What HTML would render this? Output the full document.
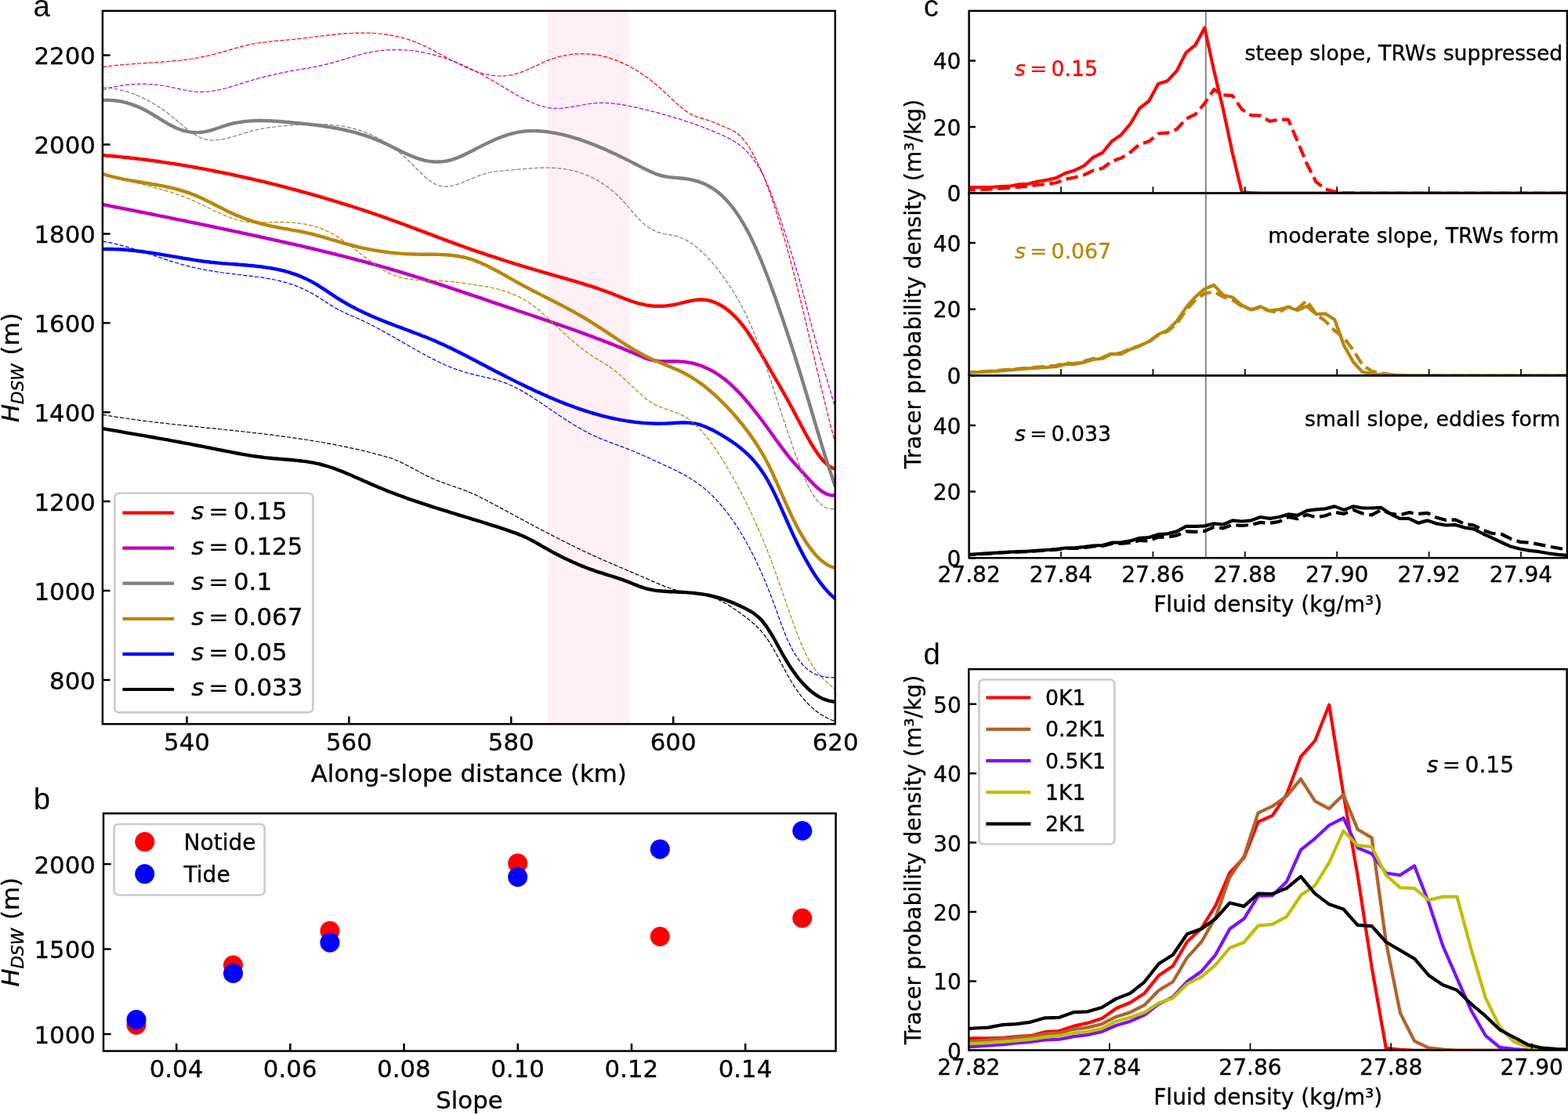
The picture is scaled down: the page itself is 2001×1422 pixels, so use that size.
<!DOCTYPE html>
<html lang="en"><head><meta charset="utf-8"><title>Figure</title>
<style>html,body{margin:0;padding:0;background:#fff;overflow:hidden}svg{display:block}text{white-space:pre;stroke-width:0.35px;paint-order:stroke}</style></head>
<body>
<svg width="2001" height="1422" viewBox="0 0 2001 1422">
<rect width="2001" height="1422" fill="#fff"/>
<defs>
<clipPath id="ca"><rect x="130.9" y="13.9" width="934.9" height="910.3"/></clipPath>
<clipPath id="c1"><rect x="1236.6" y="13.9" width="763.4" height="232.7"/></clipPath>
<clipPath id="c2"><rect x="1236.6" y="246.6" width="763.4" height="232.7"/></clipPath>
<clipPath id="c3"><rect x="1236.6" y="479.3" width="763.4" height="232.9"/></clipPath>
<clipPath id="cd"><rect x="1236.3" y="854.2" width="763.4" height="486.4"/></clipPath>
</defs>
<g id="panel-a">
<rect x="699" y="13.9" width="104.7" height="910.3" fill="#fff0f5"/>
<g clip-path="url(#ca)" fill="none" stroke-linejoin="round">
<path d="M131 198.2 L134 198.4 L137 198.7 L140 198.9 L143 199.2 L146 199.5 L149 199.8 L152 200.1 L155 200.4 L158 200.7 L161 201 L164 201.3 L167 201.7 L170 202 L173 202.3 L176 202.7 L179 203.1 L182 203.4 L185 203.8 L188 204.2 L191 204.6 L194 205 L197 205.4 L200 205.8 L203 206.2 L206 206.7 L209 207.1 L212 207.6 L215 208 L218 208.5 L221 208.9 L224 209.4 L227 209.9 L230 210.4 L233 210.9 L236 211.4 L239 211.9 L242 212.4 L245 212.9 L248 213.5 L251 214 L254 214.6 L257 215.1 L260 215.7 L263 216.2 L266 216.8 L269 217.4 L272 218 L275 218.6 L278 219.2 L281 219.8 L284 220.4 L287 221 L290 221.6 L293 222.2 L296 222.9 L299 223.5 L302 224.2 L305 224.8 L308 225.5 L311 226.2 L314 226.8 L317 227.5 L320 228.2 L323 228.9 L326 229.6 L329 230.3 L332 231 L335 231.7 L338 232.4 L341 233.2 L344 233.9 L347 234.6 L350 235.4 L353 236.1 L356 236.9 L359 237.7 L362 238.4 L365 239.2 L368 240 L371 240.8 L374 241.6 L377 242.4 L380 243.2 L383 244 L386 244.8 L389 245.6 L392 246.5 L395 247.3 L398 248.2 L401 249 L404 249.9 L407 250.7 L410 251.6 L413 252.5 L416 253.4 L419 254.3 L422 255.2 L425 256.1 L428 257 L431 257.9 L434 258.8 L437 259.8 L440 260.7 L443 261.6 L446 262.6 L449 263.5 L452 264.5 L455 265.5 L458 266.5 L461 267.4 L464 268.4 L467 269.4 L470 270.4 L473 271.5 L476 272.5 L479 273.5 L482 274.5 L485 275.6 L488 276.6 L491 277.7 L494 278.7 L497 279.8 L500 280.9 L503 282 L506 283 L509 284.1 L512 285.2 L515 286.3 L518 287.5 L521 288.6 L524 289.7 L527 290.8 L530 291.9 L533 293.1 L536 294.2 L539 295.3 L542 296.4 L545 297.6 L548 298.7 L551 299.8 L554 301 L557 302.1 L560 303.2 L563 304.3 L566 305.5 L569 306.6 L572 307.7 L575 308.8 L578 309.9 L581 311 L584 312.1 L587 313.2 L590 314.3 L593 315.4 L596 316.5 L599 317.5 L602 318.6 L605 319.6 L608 320.7 L611 321.7 L614 322.7 L617 323.7 L620 324.7 L623 325.8 L626 326.7 L629 327.7 L632 328.7 L635 329.7 L638 330.7 L641 331.6 L644 332.6 L647 333.5 L650 334.5 L653 335.4 L656 336.3 L659 337.3 L662 338.2 L665 339.1 L668 340 L671 340.9 L674 341.8 L677 342.7 L680 343.6 L683 344.5 L686 345.4 L689 346.2 L692 347.1 L695 348 L698 348.8 L701 349.7 L704 350.6 L707 351.4 L710 352.3 L713 353.1 L716 354 L719 354.8 L722 355.7 L725 356.6 L728 357.4 L731 358.3 L734 359.2 L737 360.1 L740 361 L743 361.9 L746 362.8 L749 363.8 L752 364.7 L755 365.7 L758 366.7 L761 367.7 L764 368.7 L767 369.8 L770 370.8 L773 371.9 L776 373 L779 374.1 L782 375.3 L785 376.5 L788 377.7 L791 378.9 L794 380 L797 381.2 L800 382.3 L803 383.4 L806 384.5 L809 385.5 L812 386.4 L815 387.3 L818 388 L821 388.7 L824 389.3 L827 389.8 L830 390.2 L833 390.5 L836 390.7 L839 390.8 L842 390.8 L845 390.7 L848 390.6 L851 390.3 L854 389.9 L857 389.5 L860 389 L863 388.4 L866 387.7 L869 386.9 L872 386.2 L875 385.5 L878 384.8 L881 384.1 L884 383.5 L887 383.1 L890 382.7 L893 382.5 L896 382.5 L899 382.7 L902 383.1 L905 383.7 L908 384.5 L911 385.5 L914 386.7 L917 388.2 L920 389.8 L923 391.7 L926 393.7 L929 396 L932 398.5 L935 401.1 L938 404.1 L941 407.2 L944 410.6 L947 414.2 L950 418.1 L953 422.3 L956 426.7 L959 431.3 L962 436.1 L965 441 L968 446 L971 451.2 L974 456.3 L977 461.6 L980 466.8 L983 472 L986 477.1 L989 482.3 L992 487.5 L995 492.7 L998 497.9 L1001 503.2 L1004 508.6 L1007 514 L1010 519.5 L1013 525.1 L1016 530.8 L1019 536.6 L1022 542.3 L1025 547.9 L1028 553.5 L1031 558.9 L1034 564.1 L1037 569.2 L1040 573.9 L1043 578.4 L1046 582.6 L1049 586.3 L1052 589.7 L1055 592.5 L1058 594.9 L1061 596.8 L1064 598 L1066 598.5" stroke="#ff0000" stroke-width="4.4"/>
<path d="M131 261 L134 261.6 L137 262.2 L140 262.8 L143 263.4 L146 264 L149 264.6 L152 265.1 L155 265.7 L158 266.3 L161 266.9 L164 267.5 L167 268.1 L170 268.7 L173 269.3 L176 269.9 L179 270.5 L182 271.1 L185 271.7 L188 272.3 L191 272.9 L194 273.5 L197 274.1 L200 274.7 L203 275.3 L206 275.9 L209 276.5 L212 277.1 L215 277.7 L218 278.3 L221 278.9 L224 279.6 L227 280.2 L230 280.8 L233 281.4 L236 282 L239 282.6 L242 283.3 L245 283.9 L248 284.5 L251 285.1 L254 285.7 L257 286.4 L260 287 L263 287.6 L266 288.2 L269 288.9 L272 289.5 L275 290.1 L278 290.8 L281 291.4 L284 292 L287 292.7 L290 293.3 L293 293.9 L296 294.6 L299 295.2 L302 295.9 L305 296.5 L308 297.1 L311 297.8 L314 298.4 L317 299.1 L320 299.7 L323 300.4 L326 301 L329 301.7 L332 302.3 L335 303 L338 303.6 L341 304.3 L344 305 L347 305.6 L350 306.3 L353 307 L356 307.6 L359 308.3 L362 309 L365 309.6 L368 310.3 L371 311 L374 311.7 L377 312.4 L380 313.1 L383 313.7 L386 314.4 L389 315.1 L392 315.8 L395 316.5 L398 317.2 L401 318 L404 318.7 L407 319.4 L410 320.1 L413 320.8 L416 321.6 L419 322.3 L422 323 L425 323.8 L428 324.5 L431 325.3 L434 326 L437 326.8 L440 327.6 L443 328.3 L446 329.1 L449 329.9 L452 330.7 L455 331.5 L458 332.3 L461 333 L464 333.9 L467 334.7 L470 335.5 L473 336.3 L476 337.1 L479 338 L482 338.8 L485 339.6 L488 340.5 L491 341.4 L494 342.2 L497 343.1 L500 344 L503 344.8 L506 345.7 L509 346.6 L512 347.5 L515 348.4 L518 349.4 L521 350.3 L524 351.2 L527 352.1 L530 353.1 L533 354 L536 354.9 L539 355.9 L542 356.9 L545 357.8 L548 358.8 L551 359.7 L554 360.7 L557 361.7 L560 362.7 L563 363.6 L566 364.6 L569 365.6 L572 366.6 L575 367.6 L578 368.6 L581 369.6 L584 370.6 L587 371.6 L590 372.6 L593 373.6 L596 374.6 L599 375.6 L602 376.6 L605 377.7 L608 378.7 L611 379.7 L614 380.7 L617 381.7 L620 382.7 L623 383.8 L626 384.8 L629 385.8 L632 386.8 L635 387.8 L638 388.9 L641 389.9 L644 390.9 L647 391.9 L650 392.9 L653 393.9 L656 394.9 L659 396 L662 397 L665 398 L668 399 L671 400 L674 401 L677 402 L680 403 L683 404.1 L686 405.1 L689 406.1 L692 407.1 L695 408.1 L698 409.2 L701 410.2 L704 411.2 L707 412.3 L710 413.3 L713 414.3 L716 415.4 L719 416.4 L722 417.5 L725 418.5 L728 419.6 L731 420.7 L734 421.7 L737 422.8 L740 423.9 L743 425 L746 426.1 L749 427.2 L752 428.3 L755 429.4 L758 430.5 L761 431.7 L764 432.8 L767 433.9 L770 435.1 L773 436.3 L776 437.4 L779 438.6 L782 439.8 L785 441 L788 442.2 L791 443.4 L794 444.6 L797 445.9 L800 447.1 L803 448.4 L806 449.6 L809 450.9 L812 452.2 L815 453.5 L818 454.8 L821 456.1 L824 457.3 L827 458.3 L830 459.2 L833 459.9 L836 460.5 L839 460.8 L842 461.1 L845 461.2 L848 461.2 L851 461.3 L854 461.3 L857 461.3 L860 461.3 L863 461.3 L866 461.4 L869 461.6 L872 461.8 L875 462.1 L878 462.6 L881 463.1 L884 463.7 L887 464.5 L890 465.4 L893 466.3 L896 467.4 L899 468.7 L902 470 L905 471.4 L908 473 L911 474.7 L914 476.5 L917 478.5 L920 480.6 L923 482.8 L926 485.1 L929 487.6 L932 490.2 L935 493 L938 495.9 L941 498.9 L944 502 L947 505.3 L950 508.6 L953 512.1 L956 515.7 L959 519.4 L962 523.1 L965 526.9 L968 530.8 L971 534.8 L974 538.8 L977 542.9 L980 547 L983 551.1 L986 555.3 L989 559.5 L992 563.6 L995 567.7 L998 571.8 L1001 575.7 L1004 579.6 L1007 583.4 L1010 587 L1013 590.5 L1016 593.8 L1019 597.1 L1022 600.4 L1025 603.7 L1028 607 L1031 610.3 L1034 613.5 L1037 616.7 L1040 619.7 L1043 622.5 L1046 625 L1049 627.3 L1052 629.2 L1055 630.7 L1058 631.7 L1061 632.3 L1064 632.3 L1066 632" stroke="#bf00bf" stroke-width="4.4"/>
<path d="M131 128 L134 127.9 L137 127.8 L140 127.9 L143 128.1 L146 128.3 L149 128.7 L152 129.1 L155 129.7 L158 130.4 L161 131.1 L164 132 L167 132.9 L170 133.9 L173 135.1 L176 136.3 L179 137.6 L182 139 L185 140.5 L188 142.1 L191 143.8 L194 145.5 L197 147.4 L200 149.2 L203 151.1 L206 153 L209 154.8 L212 156.6 L215 158.4 L218 160 L221 161.5 L224 162.9 L227 164.2 L230 165.3 L233 166.3 L236 167.1 L239 167.8 L242 168.4 L245 168.8 L248 169 L251 169.1 L254 169 L257 168.8 L260 168.4 L263 167.9 L266 167.2 L269 166.4 L272 165.5 L275 164.5 L278 163.5 L281 162.5 L284 161.4 L287 160.5 L290 159.5 L293 158.7 L296 157.9 L299 157.2 L302 156.6 L305 156.1 L308 155.6 L311 155.2 L314 154.9 L317 154.6 L320 154.4 L323 154.2 L326 154.1 L329 154 L332 154 L335 154 L338 154.1 L341 154.2 L344 154.3 L347 154.4 L350 154.6 L353 154.8 L356 155 L359 155.3 L362 155.5 L365 155.8 L368 156 L371 156.3 L374 156.6 L377 156.9 L380 157.2 L383 157.5 L386 157.8 L389 158.1 L392 158.4 L395 158.7 L398 159.1 L401 159.4 L404 159.8 L407 160.2 L410 160.6 L413 161 L416 161.5 L419 162 L422 162.4 L425 163 L428 163.5 L431 164.1 L434 164.7 L437 165.3 L440 166 L443 166.6 L446 167.4 L449 168.1 L452 168.9 L455 169.7 L458 170.6 L461 171.5 L464 172.4 L467 173.4 L470 174.4 L473 175.5 L476 176.6 L479 177.8 L482 179 L485 180.3 L488 181.6 L491 182.9 L494 184.3 L497 185.8 L500 187.3 L503 188.7 L506 190.2 L509 191.7 L512 193.2 L515 194.6 L518 196.1 L521 197.4 L524 198.7 L527 200 L530 201.1 L533 202.2 L536 203.2 L539 204 L542 204.8 L545 205.4 L548 205.9 L551 206.2 L554 206.5 L557 206.6 L560 206.5 L563 206.4 L566 206.1 L569 205.6 L572 205 L575 204.3 L578 203.4 L581 202.4 L584 201.3 L587 200 L590 198.7 L593 197.2 L596 195.8 L599 194.2 L602 192.7 L605 191.2 L608 189.6 L611 188.1 L614 186.6 L617 185.1 L620 183.6 L623 182.2 L626 180.8 L629 179.4 L632 178.1 L635 176.8 L638 175.6 L641 174.5 L644 173.4 L647 172.4 L650 171.4 L653 170.6 L656 169.8 L659 169.2 L662 168.6 L665 168.1 L668 167.7 L671 167.4 L674 167.2 L677 167.1 L680 167.1 L683 167.1 L686 167.2 L689 167.4 L692 167.6 L695 167.9 L698 168.2 L701 168.7 L704 169.1 L707 169.6 L710 170.2 L713 170.8 L716 171.4 L719 172.1 L722 172.9 L725 173.7 L728 174.5 L731 175.4 L734 176.3 L737 177.2 L740 178.2 L743 179.2 L746 180.3 L749 181.3 L752 182.5 L755 183.6 L758 184.8 L761 186 L764 187.2 L767 188.5 L770 189.8 L773 191.1 L776 192.5 L779 193.8 L782 195.2 L785 196.6 L788 198 L791 199.5 L794 200.9 L797 202.4 L800 203.9 L803 205.4 L806 206.9 L809 208.4 L812 210 L815 211.5 L818 213.1 L821 214.6 L824 216.1 L827 217.6 L830 219 L833 220.3 L836 221.6 L839 222.7 L842 223.7 L845 224.5 L848 225.1 L851 225.7 L854 226.1 L857 226.4 L860 226.7 L863 226.9 L866 227.2 L869 227.5 L872 227.8 L875 228.2 L878 228.6 L881 229.2 L884 229.8 L887 230.6 L890 231.4 L893 232.4 L896 233.5 L899 234.8 L902 236.2 L905 237.8 L908 239.5 L911 241.5 L914 243.6 L917 246 L920 248.5 L923 251.3 L926 254.4 L929 257.6 L932 261.1 L935 264.9 L938 268.9 L941 273.2 L944 277.7 L947 282.6 L950 287.7 L953 293.1 L956 298.8 L959 304.8 L962 311.1 L965 317.7 L968 324.6 L971 331.7 L974 339.1 L977 346.7 L980 354.5 L983 362.5 L986 370.7 L989 379 L992 387.5 L995 396.2 L998 404.9 L1001 413.8 L1004 422.8 L1007 431.9 L1010 441.1 L1013 450.4 L1016 459.9 L1019 469.5 L1022 479.2 L1025 489 L1028 498.9 L1031 508.9 L1034 519 L1037 529.1 L1040 539.2 L1043 549.3 L1046 559.2 L1049 569.1 L1052 578.8 L1055 588.3 L1058 597.6 L1061 606.6 L1064 615.4 L1066 621" stroke="#808080" stroke-width="4.4"/>
<path d="M131 222 L134 222.9 L137 223.8 L140 224.6 L143 225.4 L146 226.1 L149 226.8 L152 227.5 L155 228.1 L158 228.8 L161 229.3 L164 229.9 L167 230.4 L170 231 L173 231.5 L176 232 L179 232.5 L182 233 L185 233.5 L188 233.9 L191 234.4 L194 235 L197 235.5 L200 236 L203 236.6 L206 237.1 L209 237.7 L212 238.3 L215 239 L218 239.7 L221 240.4 L224 241.1 L227 241.9 L230 242.8 L233 243.7 L236 244.6 L239 245.6 L242 246.6 L245 247.7 L248 248.9 L251 250.1 L254 251.4 L257 252.8 L260 254.2 L263 255.7 L266 257.1 L269 258.6 L272 260.2 L275 261.7 L278 263.3 L281 264.8 L284 266.3 L287 267.9 L290 269.4 L293 270.8 L296 272.2 L299 273.6 L302 274.9 L305 276.1 L308 277.3 L311 278.5 L314 279.6 L317 280.6 L320 281.6 L323 282.6 L326 283.5 L329 284.3 L332 285.2 L335 286 L338 286.7 L341 287.4 L344 288.1 L347 288.8 L350 289.4 L353 290 L356 290.6 L359 291.2 L362 291.7 L365 292.2 L368 292.7 L371 293.3 L374 293.8 L377 294.3 L380 294.8 L383 295.4 L386 296 L389 296.6 L392 297.3 L395 298 L398 298.7 L401 299.5 L404 300.3 L407 301.1 L410 301.9 L413 302.8 L416 303.7 L419 304.6 L422 305.5 L425 306.4 L428 307.2 L431 308.1 L434 309 L437 309.9 L440 310.8 L443 311.6 L446 312.4 L449 313.2 L452 314 L455 314.7 L458 315.5 L461 316.2 L464 316.8 L467 317.4 L470 318 L473 318.6 L476 319.2 L479 319.7 L482 320.2 L485 320.7 L488 321.1 L491 321.5 L494 321.9 L497 322.3 L500 322.6 L503 322.9 L506 323.2 L509 323.4 L512 323.7 L515 323.9 L518 324.1 L521 324.2 L524 324.4 L527 324.5 L530 324.5 L533 324.6 L536 324.6 L539 324.7 L542 324.7 L545 324.7 L548 324.7 L551 324.7 L554 324.8 L557 324.8 L560 324.9 L563 325 L566 325.1 L569 325.3 L572 325.5 L575 325.8 L578 326.1 L581 326.5 L584 326.9 L587 327.5 L590 328 L593 328.7 L596 329.4 L599 330.3 L602 331.2 L605 332.2 L608 333.4 L611 334.6 L614 335.8 L617 337.2 L620 338.6 L623 340 L626 341.5 L629 343.1 L632 344.7 L635 346.3 L638 347.9 L641 349.6 L644 351.3 L647 353 L650 354.7 L653 356.4 L656 358.1 L659 359.8 L662 361.4 L665 363.1 L668 364.7 L671 366.3 L674 367.8 L677 369.4 L680 371 L683 372.5 L686 374.1 L689 375.6 L692 377.1 L695 378.6 L698 380.2 L701 381.7 L704 383.2 L707 384.7 L710 386.3 L713 387.8 L716 389.4 L719 391 L722 392.6 L725 394.2 L728 395.8 L731 397.4 L734 399.1 L737 400.8 L740 402.5 L743 404.2 L746 406 L749 407.8 L752 409.6 L755 411.5 L758 413.4 L761 415.3 L764 417.3 L767 419.2 L770 421.2 L773 423.2 L776 425.2 L779 427.1 L782 429.1 L785 431.1 L788 433.1 L791 435 L794 437 L797 438.9 L800 440.8 L803 442.6 L806 444.5 L809 446.3 L812 448 L815 449.7 L818 451.4 L821 453 L824 454.6 L827 456.1 L830 457.6 L833 458.9 L836 460.3 L839 461.5 L842 462.8 L845 464 L848 465.2 L851 466.4 L854 467.7 L857 468.9 L860 470.2 L863 471.5 L866 472.8 L869 474.3 L872 475.7 L875 477.3 L878 479 L881 480.7 L884 482.6 L887 484.5 L890 486.5 L893 488.6 L896 490.8 L899 493.1 L902 495.5 L905 498 L908 500.5 L911 503.2 L914 505.9 L917 508.7 L920 511.6 L923 514.6 L926 517.6 L929 520.8 L932 524 L935 527.3 L938 530.7 L941 534.2 L944 537.8 L947 541.5 L950 545.3 L953 549.2 L956 553.2 L959 557.4 L962 561.8 L965 566.3 L968 571 L971 575.9 L974 581 L977 586.4 L980 592.1 L983 598.1 L986 604.4 L989 611 L992 617.7 L995 624.5 L998 631.4 L1001 638.2 L1004 645 L1007 651.6 L1010 658 L1013 664.2 L1016 670.1 L1019 675.8 L1022 681.1 L1025 686.2 L1028 691 L1031 695.5 L1034 699.7 L1037 703.6 L1040 707.2 L1043 710.5 L1046 713.5 L1049 716.1 L1052 718.4 L1055 720.5 L1058 722.1 L1061 723.5 L1064 724.5 L1066 724.9" stroke="#b8860b" stroke-width="4.4"/>
<path d="M131 318.1 L134 318 L137 318 L140 318 L143 318 L146 318.1 L149 318.2 L152 318.3 L155 318.5 L158 318.7 L161 318.9 L164 319.2 L167 319.5 L170 319.8 L173 320.1 L176 320.5 L179 320.8 L182 321.2 L185 321.6 L188 322.1 L191 322.5 L194 322.9 L197 323.4 L200 323.9 L203 324.4 L206 324.9 L209 325.4 L212 325.9 L215 326.4 L218 326.9 L221 327.4 L224 327.9 L227 328.4 L230 328.9 L233 329.5 L236 330 L239 330.4 L242 330.9 L245 331.4 L248 331.9 L251 332.3 L254 332.8 L257 333.2 L260 333.6 L263 334 L266 334.3 L269 334.7 L272 335 L275 335.3 L278 335.6 L281 335.9 L284 336.2 L287 336.4 L290 336.6 L293 336.9 L296 337.1 L299 337.3 L302 337.5 L305 337.8 L308 338 L311 338.2 L314 338.5 L317 338.8 L320 339 L323 339.3 L326 339.6 L329 340 L332 340.3 L335 340.7 L338 341.1 L341 341.6 L344 342 L347 342.5 L350 343.1 L353 343.7 L356 344.3 L359 345 L362 345.7 L365 346.5 L368 347.4 L371 348.3 L374 349.3 L377 350.3 L380 351.4 L383 352.6 L386 353.9 L389 355.2 L392 356.6 L395 358.1 L398 359.7 L401 361.4 L404 363.2 L407 365.1 L410 367 L413 368.9 L416 370.9 L419 372.9 L422 374.9 L425 376.9 L428 378.9 L431 380.8 L434 382.7 L437 384.5 L440 386.2 L443 388 L446 389.6 L449 391.3 L452 392.8 L455 394.4 L458 395.9 L461 397.3 L464 398.8 L467 400.2 L470 401.5 L473 402.9 L476 404.2 L479 405.5 L482 406.7 L485 408 L488 409.2 L491 410.4 L494 411.6 L497 412.7 L500 413.9 L503 415 L506 416.2 L509 417.3 L512 418.4 L515 419.5 L518 420.7 L521 421.8 L524 422.9 L527 424.1 L530 425.2 L533 426.3 L536 427.5 L539 428.7 L542 429.8 L545 431 L548 432.3 L551 433.5 L554 434.8 L557 436.1 L560 437.4 L563 438.7 L566 440.1 L569 441.5 L572 442.9 L575 444.3 L578 445.8 L581 447.2 L584 448.7 L587 450.2 L590 451.8 L593 453.3 L596 454.8 L599 456.4 L602 458 L605 459.5 L608 461.1 L611 462.7 L614 464.2 L617 465.8 L620 467.4 L623 469 L626 470.5 L629 472.1 L632 473.7 L635 475.2 L638 476.8 L641 478.3 L644 479.8 L647 481.4 L650 482.9 L653 484.4 L656 485.9 L659 487.4 L662 488.9 L665 490.3 L668 491.8 L671 493.2 L674 494.7 L677 496.1 L680 497.5 L683 498.9 L686 500.3 L689 501.6 L692 503 L695 504.3 L698 505.6 L701 506.9 L704 508.2 L707 509.5 L710 510.8 L713 512 L716 513.2 L719 514.4 L722 515.6 L725 516.7 L728 517.8 L731 518.9 L734 520 L737 521.1 L740 522.1 L743 523.1 L746 524.1 L749 525.1 L752 526 L755 527 L758 527.8 L761 528.7 L764 529.5 L767 530.4 L770 531.1 L773 531.9 L776 532.6 L779 533.3 L782 534 L785 534.6 L788 535.2 L791 535.8 L794 536.4 L797 536.9 L800 537.4 L803 537.8 L806 538.2 L809 538.6 L812 539 L815 539.3 L818 539.6 L821 539.9 L824 540.1 L827 540.3 L830 540.4 L833 540.5 L836 540.6 L839 540.7 L842 540.7 L845 540.6 L848 540.6 L851 540.5 L854 540.3 L857 540.2 L860 540 L863 539.8 L866 539.7 L869 539.5 L872 539.5 L875 539.5 L878 539.6 L881 539.8 L884 540.2 L887 540.7 L890 541.3 L893 542.2 L896 543.2 L899 544.3 L902 545.6 L905 546.9 L908 548.3 L911 549.8 L914 551.4 L917 553.1 L920 554.8 L923 556.6 L926 558.5 L929 560.4 L932 562.4 L935 564.4 L938 566.6 L941 568.8 L944 571.1 L947 573.5 L950 576.1 L953 578.8 L956 581.7 L959 584.8 L962 588.1 L965 591.6 L968 595.4 L971 599.5 L974 603.9 L977 608.6 L980 613.7 L983 619.2 L986 625.1 L989 631.2 L992 637.6 L995 644.2 L998 650.9 L1001 657.7 L1004 664.5 L1007 671.2 L1010 677.8 L1013 684.3 L1016 690.6 L1019 696.7 L1022 702.6 L1025 708.4 L1028 713.9 L1031 719.2 L1034 724.4 L1037 729.3 L1040 734 L1043 738.4 L1046 742.7 L1049 746.6 L1052 750.4 L1055 753.8 L1058 757 L1061 760 L1064 762.6 L1066 764.3" stroke="#0000ff" stroke-width="4.4"/>
<path d="M131 547.2 L134 547.7 L137 548.2 L140 548.7 L143 549.2 L146 549.7 L149 550.2 L152 550.7 L155 551.2 L158 551.8 L161 552.3 L164 552.8 L167 553.3 L170 553.8 L173 554.3 L176 554.9 L179 555.4 L182 555.9 L185 556.4 L188 556.9 L191 557.5 L194 558 L197 558.5 L200 559.1 L203 559.6 L206 560.1 L209 560.7 L212 561.2 L215 561.7 L218 562.3 L221 562.8 L224 563.4 L227 563.9 L230 564.5 L233 565.1 L236 565.6 L239 566.2 L242 566.7 L245 567.3 L248 567.9 L251 568.5 L254 569 L257 569.6 L260 570.2 L263 570.8 L266 571.4 L269 572 L272 572.6 L275 573.2 L278 573.8 L281 574.4 L284 575 L287 575.6 L290 576.2 L293 576.7 L296 577.3 L299 577.9 L302 578.5 L305 579 L308 579.6 L311 580.1 L314 580.6 L317 581.1 L320 581.6 L323 582.1 L326 582.5 L329 582.9 L332 583.3 L335 583.7 L338 584.1 L341 584.4 L344 584.7 L347 585 L350 585.3 L353 585.5 L356 585.8 L359 586 L362 586.3 L365 586.5 L368 586.7 L371 587 L374 587.3 L377 587.6 L380 587.9 L383 588.2 L386 588.6 L389 588.9 L392 589.4 L395 589.9 L398 590.4 L401 590.9 L404 591.6 L407 592.2 L410 593 L413 593.8 L416 594.6 L419 595.5 L422 596.5 L425 597.5 L428 598.6 L431 599.7 L434 600.9 L437 602 L440 603.3 L443 604.5 L446 605.8 L449 607 L452 608.4 L455 609.7 L458 611 L461 612.3 L464 613.7 L467 615 L470 616.3 L473 617.7 L476 619 L479 620.3 L482 621.6 L485 622.8 L488 624 L491 625.3 L494 626.5 L497 627.7 L500 628.8 L503 630 L506 631.1 L509 632.2 L512 633.3 L515 634.4 L518 635.5 L521 636.6 L524 637.6 L527 638.7 L530 639.7 L533 640.7 L536 641.7 L539 642.7 L542 643.7 L545 644.7 L548 645.6 L551 646.6 L554 647.6 L557 648.5 L560 649.4 L563 650.4 L566 651.3 L569 652.2 L572 653.2 L575 654.1 L578 655 L581 655.9 L584 656.8 L587 657.8 L590 658.7 L593 659.6 L596 660.5 L599 661.4 L602 662.3 L605 663.3 L608 664.2 L611 665.1 L614 666 L617 667 L620 667.9 L623 668.9 L626 669.8 L629 670.8 L632 671.7 L635 672.7 L638 673.7 L641 674.7 L644 675.7 L647 676.7 L650 677.7 L653 678.8 L656 679.8 L659 680.9 L662 682.1 L665 683.3 L668 684.5 L671 685.9 L674 687.4 L677 688.9 L680 690.5 L683 692.1 L686 693.8 L689 695.5 L692 697.3 L695 699 L698 700.7 L701 702.4 L704 704.1 L707 705.7 L710 707.3 L713 708.8 L716 710.4 L719 711.9 L722 713.3 L725 714.7 L728 716.1 L731 717.5 L734 718.8 L737 720.1 L740 721.4 L743 722.6 L746 723.8 L749 725 L752 726.1 L755 727.2 L758 728.2 L761 729.3 L764 730.3 L767 731.2 L770 732.2 L773 733.1 L776 734.1 L779 735 L782 735.9 L785 736.9 L788 737.9 L791 738.9 L794 739.9 L797 741 L800 742.1 L803 743.3 L806 744.5 L809 745.7 L812 746.9 L815 748.1 L818 749.2 L821 750.2 L824 751.1 L827 751.9 L830 752.5 L833 753.1 L836 753.6 L839 754 L842 754.3 L845 754.6 L848 754.8 L851 755 L854 755.2 L857 755.3 L860 755.4 L863 755.5 L866 755.7 L869 755.8 L872 756 L875 756.1 L878 756.4 L881 756.6 L884 756.9 L887 757.2 L890 757.6 L893 758 L896 758.4 L899 758.9 L902 759.4 L905 760 L908 760.7 L911 761.4 L914 762.2 L917 763 L920 763.9 L923 764.9 L926 765.9 L929 767 L932 768.1 L935 769.3 L938 770.6 L941 771.9 L944 773.3 L947 774.7 L950 776.1 L953 777.6 L956 779.3 L959 781 L962 783 L965 785.3 L968 787.9 L971 790.8 L974 794.2 L977 798.1 L980 802.5 L983 807.2 L986 812.2 L989 817.5 L992 822.9 L995 828.3 L998 833.7 L1001 839 L1004 844.1 L1007 848.9 L1010 853.5 L1013 857.8 L1016 861.9 L1019 865.8 L1022 869.4 L1025 872.8 L1028 875.9 L1031 878.8 L1034 881.5 L1037 883.9 L1040 886.1 L1043 888.1 L1046 889.9 L1049 891.4 L1052 892.7 L1055 893.7 L1058 894.6 L1061 895.2 L1064 895.6 L1066 895.8" stroke="#000000" stroke-width="4.4"/>
<path d="M131 85.6 L134 85.2 L137 84.8 L140 84.4 L143 84 L146 83.7 L149 83.4 L152 83.1 L155 82.8 L158 82.5 L161 82.3 L164 82 L167 81.8 L170 81.6 L173 81.4 L176 81.2 L179 81 L182 80.8 L185 80.6 L188 80.4 L191 80.2 L194 80 L197 79.8 L200 79.6 L203 79.4 L206 79.2 L209 78.9 L212 78.7 L215 78.5 L218 78.2 L221 77.9 L224 77.6 L227 77.3 L230 77 L233 76.6 L236 76.3 L239 75.9 L242 75.4 L245 75 L248 74.5 L251 74 L254 73.5 L257 72.9 L260 72.3 L263 71.7 L266 71 L269 70.3 L272 69.6 L275 68.8 L278 68 L281 67.1 L284 66.3 L287 65.4 L290 64.5 L293 63.7 L296 62.8 L299 61.9 L302 61.1 L305 60.3 L308 59.4 L311 58.7 L314 57.9 L317 57.3 L320 56.6 L323 56 L326 55.5 L329 55 L332 54.5 L335 54.1 L338 53.8 L341 53.4 L344 53.1 L347 52.8 L350 52.5 L353 52.2 L356 51.9 L359 51.7 L362 51.4 L365 51.1 L368 50.9 L371 50.6 L374 50.3 L377 49.9 L380 49.6 L383 49.3 L386 48.9 L389 48.6 L392 48.2 L395 47.8 L398 47.5 L401 47.1 L404 46.7 L407 46.3 L410 46 L413 45.6 L416 45.3 L419 44.9 L422 44.6 L425 44.3 L428 44 L431 43.7 L434 43.4 L437 43.1 L440 42.9 L443 42.7 L446 42.5 L449 42.4 L452 42.2 L455 42.1 L458 42 L461 42 L464 42 L467 42 L470 42.1 L473 42.2 L476 42.3 L479 42.5 L482 42.7 L485 43 L488 43.3 L491 43.7 L494 44.1 L497 44.6 L500 45.1 L503 45.7 L506 46.3 L509 47 L512 47.8 L515 48.6 L518 49.5 L521 50.4 L524 51.4 L527 52.5 L530 53.7 L533 54.9 L536 56.2 L539 57.5 L542 58.9 L545 60.3 L548 61.8 L551 63.4 L554 64.9 L557 66.5 L560 68.1 L563 69.7 L566 71.3 L569 72.9 L572 74.6 L575 76.2 L578 77.7 L581 79.3 L584 80.8 L587 82.3 L590 83.8 L593 85.2 L596 86.6 L599 87.9 L602 89.1 L605 90.3 L608 91.4 L611 92.4 L614 93.3 L617 94.1 L620 94.9 L623 95.5 L626 96 L629 96.4 L632 96.7 L635 96.9 L638 97 L641 97 L644 96.8 L647 96.5 L650 96.1 L653 95.6 L656 94.9 L659 94.1 L662 93.2 L665 92.2 L668 91.1 L671 89.8 L674 88.5 L677 87.2 L680 85.8 L683 84.4 L686 83 L689 81.6 L692 80.2 L695 78.9 L698 77.6 L701 76.4 L704 75.3 L707 74.3 L710 73.4 L713 72.5 L716 71.7 L719 71.1 L722 70.5 L725 70 L728 69.5 L731 69.2 L734 68.9 L737 68.8 L740 68.6 L743 68.6 L746 68.7 L749 68.8 L752 69 L755 69.3 L758 69.7 L761 70.1 L764 70.6 L767 71.2 L770 71.9 L773 72.6 L776 73.5 L779 74.4 L782 75.4 L785 76.4 L788 77.6 L791 78.8 L794 80.1 L797 81.5 L800 83 L803 84.5 L806 86.2 L809 87.9 L812 89.7 L815 91.5 L818 93.5 L821 95.5 L824 97.6 L827 99.8 L830 102.1 L833 104.5 L836 106.9 L839 109.4 L842 112 L845 114.7 L848 117.5 L851 120.3 L854 123.1 L857 126 L860 128.8 L863 131.6 L866 134.2 L869 136.8 L872 139.2 L875 141.4 L878 143.5 L881 145.3 L884 146.9 L887 148.2 L890 149.3 L893 150.3 L896 151.2 L899 152.1 L902 153 L905 153.9 L908 155 L911 156.1 L914 157.3 L917 158.6 L920 159.9 L923 161.2 L926 162.6 L929 163.9 L932 165.2 L935 166.7 L938 168.4 L941 170.5 L944 173 L947 176 L950 179.6 L953 183.6 L956 188 L959 192.9 L962 198.3 L965 204.1 L968 210.4 L971 217 L974 224.1 L977 231.6 L980 239.5 L983 247.7 L986 256.3 L989 265.3 L992 274.6 L995 284.3 L998 294.3 L1001 304.6 L1004 315.2 L1007 326.1 L1010 337.3 L1013 348.8 L1016 360.5 L1019 372.5 L1022 384.7 L1025 397.1 L1028 409.7 L1031 422.4 L1034 435.2 L1037 448 L1040 460.8 L1043 473.5 L1046 486.2 L1049 498.8 L1052 511.2 L1055 523.4 L1058 535.4 L1061 547.1 L1064 558.5 L1066 566" stroke="#ff0000" stroke-width="1.25" stroke-dasharray="5.2 2.2"/>
<path d="M131 114.6 L134 113.7 L137 112.9 L140 112.2 L143 111.5 L146 110.8 L149 110.3 L152 109.7 L155 109.2 L158 108.8 L161 108.4 L164 108.1 L167 107.8 L170 107.6 L173 107.4 L176 107.3 L179 107.2 L182 107.2 L185 107.2 L188 107.3 L191 107.5 L194 107.7 L197 107.9 L200 108.3 L203 108.6 L206 109 L209 109.5 L212 110 L215 110.6 L218 111.2 L221 111.9 L224 112.5 L227 113.2 L230 113.8 L233 114.5 L236 115 L239 115.6 L242 116.1 L245 116.5 L248 116.9 L251 117.2 L254 117.4 L257 117.4 L260 117.4 L263 117.2 L266 117 L269 116.6 L272 116.2 L275 115.7 L278 115.1 L281 114.5 L284 113.7 L287 113 L290 112.2 L293 111.3 L296 110.4 L299 109.5 L302 108.6 L305 107.6 L308 106.7 L311 105.7 L314 104.7 L317 103.8 L320 102.9 L323 102 L326 101.1 L329 100.3 L332 99.5 L335 98.7 L338 97.9 L341 97.2 L344 96.4 L347 95.7 L350 95.1 L353 94.4 L356 93.7 L359 93.1 L362 92.5 L365 91.9 L368 91.3 L371 90.8 L374 90.2 L377 89.7 L380 89.2 L383 88.7 L386 88.1 L389 87.6 L392 87.1 L395 86.6 L398 86 L401 85.4 L404 84.8 L407 84.2 L410 83.6 L413 82.9 L416 82.2 L419 81.5 L422 80.7 L425 79.9 L428 79 L431 78.2 L434 77.3 L437 76.4 L440 75.4 L443 74.5 L446 73.6 L449 72.7 L452 71.8 L455 71 L458 70.1 L461 69.3 L464 68.6 L467 67.8 L470 67.2 L473 66.6 L476 66 L479 65.5 L482 65.1 L485 64.7 L488 64.3 L491 64.1 L494 63.8 L497 63.7 L500 63.6 L503 63.5 L506 63.5 L509 63.5 L512 63.6 L515 63.8 L518 64 L521 64.2 L524 64.5 L527 64.9 L530 65.2 L533 65.7 L536 66.2 L539 66.7 L542 67.3 L545 68 L548 68.6 L551 69.4 L554 70.1 L557 71 L560 71.8 L563 72.7 L566 73.7 L569 74.7 L572 75.7 L575 76.8 L578 78 L581 79.1 L584 80.3 L587 81.6 L590 82.9 L593 84.2 L596 85.6 L599 87 L602 88.5 L605 90 L608 91.5 L611 93.1 L614 94.7 L617 96.3 L620 98 L623 99.7 L626 101.4 L629 103.2 L632 105 L635 106.8 L638 108.6 L641 110.4 L644 112.2 L647 114 L650 115.8 L653 117.6 L656 119.3 L659 121 L662 122.7 L665 124.3 L668 125.9 L671 127.4 L674 128.8 L677 130.2 L680 131.5 L683 132.7 L686 133.8 L689 134.8 L692 135.7 L695 136.5 L698 137.2 L701 137.7 L704 138.1 L707 138.3 L710 138.4 L713 138.3 L716 138.2 L719 137.9 L722 137.6 L725 137.2 L728 136.7 L731 136.2 L734 135.7 L737 135.1 L740 134.6 L743 134 L746 133.5 L749 133 L752 132.5 L755 132.1 L758 131.8 L761 131.5 L764 131.4 L767 131.3 L770 131.4 L773 131.5 L776 131.6 L779 131.8 L782 132.1 L785 132.4 L788 132.8 L791 133.2 L794 133.7 L797 134.2 L800 134.7 L803 135.3 L806 135.9 L809 136.5 L812 137.2 L815 137.9 L818 138.6 L821 139.3 L824 140 L827 140.8 L830 141.6 L833 142.3 L836 143.1 L839 143.9 L842 144.7 L845 145.6 L848 146.4 L851 147.3 L854 148.1 L857 149 L860 149.9 L863 150.8 L866 151.7 L869 152.7 L872 153.6 L875 154.6 L878 155.6 L881 156.6 L884 157.7 L887 158.7 L890 159.8 L893 160.9 L896 162 L899 163.2 L902 164.3 L905 165.5 L908 166.7 L911 167.9 L914 169.2 L917 170.5 L920 171.8 L923 173.1 L926 174.5 L929 176 L932 177.6 L935 179.2 L938 181.1 L941 183.1 L944 185.3 L947 187.7 L950 190.4 L953 193.4 L956 196.6 L959 200.2 L962 204.2 L965 208.5 L968 213.2 L971 218.4 L974 224 L977 230.2 L980 236.9 L983 244.2 L986 252 L989 260.2 L992 268.6 L995 277.3 L998 286.1 L1001 295 L1004 304.2 L1007 313.5 L1010 323 L1013 332.7 L1016 342.7 L1019 353 L1022 363.6 L1025 374.6 L1028 385.8 L1031 397.3 L1034 408.9 L1037 420.3 L1040 431.5 L1043 442.4 L1046 452.9 L1049 463.3 L1052 473.4 L1055 483.5 L1058 493.6 L1061 503.7 L1064 513.9 L1066 520.8" stroke="#bf00bf" stroke-width="1.25" stroke-dasharray="5.2 2.2"/>
<path d="M131 111.3 L134 111.5 L137 111.8 L140 112.2 L143 112.7 L146 113.2 L149 113.8 L152 114.4 L155 115.1 L158 115.9 L161 116.8 L164 117.7 L167 118.7 L170 119.8 L173 121 L176 122.2 L179 123.5 L182 124.9 L185 126.4 L188 127.9 L191 129.5 L194 131.2 L197 133 L200 134.8 L203 136.7 L206 138.8 L209 140.8 L212 143 L215 145.2 L218 147.6 L221 150 L224 152.5 L227 155 L230 157.5 L233 160 L236 162.5 L239 164.9 L242 167.2 L245 169.4 L248 171.4 L251 173.2 L254 174.9 L257 176.2 L260 177.3 L263 178.1 L266 178.6 L269 178.9 L272 179 L275 178.9 L278 178.7 L281 178.3 L284 177.8 L287 177.2 L290 176.5 L293 175.7 L296 174.9 L299 174 L302 173 L305 172.1 L308 171.1 L311 170.1 L314 169.2 L317 168.3 L320 167.5 L323 166.7 L326 166 L329 165.3 L332 164.7 L335 164.2 L338 163.6 L341 163.2 L344 162.7 L347 162.3 L350 162 L353 161.6 L356 161.3 L359 161 L362 160.7 L365 160.4 L368 160.1 L371 159.9 L374 159.6 L377 159.4 L380 159.2 L383 159 L386 158.8 L389 158.7 L392 158.6 L395 158.5 L398 158.4 L401 158.4 L404 158.4 L407 158.4 L410 158.5 L413 158.6 L416 158.8 L419 159 L422 159.2 L425 159.5 L428 159.9 L431 160.2 L434 160.7 L437 161.2 L440 161.7 L443 162.3 L446 162.9 L449 163.7 L452 164.4 L455 165.3 L458 166.2 L461 167.1 L464 168.2 L467 169.3 L470 170.5 L473 171.7 L476 173.1 L479 174.5 L482 176 L485 177.6 L488 179.3 L491 181.1 L494 182.9 L497 184.9 L500 187 L503 189.2 L506 191.5 L509 193.9 L512 196.4 L515 199 L518 201.8 L521 204.7 L524 207.6 L527 210.7 L530 213.8 L533 216.8 L536 219.8 L539 222.8 L542 225.5 L545 228.1 L548 230.5 L551 232.6 L554 234.3 L557 235.8 L560 236.8 L563 237.6 L566 238 L569 238.1 L572 237.9 L575 237.5 L578 236.9 L581 236.1 L584 235.2 L587 234.2 L590 233 L593 231.8 L596 230.6 L599 229.3 L602 228 L605 226.8 L608 225.6 L611 224.4 L614 223.3 L617 222.3 L620 221.4 L623 220.7 L626 220 L629 219.5 L632 219 L635 218.6 L638 218.3 L641 218 L644 217.7 L647 217.5 L650 217.2 L653 217 L656 216.7 L659 216.5 L662 216.2 L665 215.9 L668 215.7 L671 215.4 L674 215.2 L677 214.9 L680 214.7 L683 214.6 L686 214.4 L689 214.3 L692 214.2 L695 214.1 L698 214.1 L701 214.2 L704 214.3 L707 214.4 L710 214.6 L713 214.9 L716 215.2 L719 215.6 L722 216 L725 216.5 L728 217.1 L731 217.8 L734 218.6 L737 219.4 L740 220.3 L743 221.3 L746 222.4 L749 223.6 L752 224.9 L755 226.3 L758 227.8 L761 229.4 L764 231.1 L767 233 L770 234.9 L773 237 L776 239.2 L779 241.5 L782 244 L785 246.6 L788 249.3 L791 252.2 L794 255.3 L797 258.5 L800 261.9 L803 265.4 L806 269 L809 272.6 L812 276.1 L815 279.3 L818 282.4 L821 285.1 L824 287.5 L827 289.7 L830 291.7 L833 293.4 L836 294.8 L839 296.1 L842 297.1 L845 298 L848 298.7 L851 299.2 L854 299.7 L857 300.2 L860 300.8 L863 301.5 L866 302.4 L869 303.5 L872 304.8 L875 306.2 L878 307.9 L881 309.8 L884 311.8 L887 314 L890 316.4 L893 319 L896 321.7 L899 324.6 L902 327.6 L905 330.9 L908 334.2 L911 337.7 L914 341.4 L917 345.2 L920 349.2 L923 353.3 L926 357.5 L929 361.9 L932 366.4 L935 371 L938 375.9 L941 381 L944 386.2 L947 391.8 L950 397.6 L953 403.8 L956 410.2 L959 417 L962 424.2 L965 431.7 L968 439.7 L971 448 L974 456.6 L977 465.4 L980 474.5 L983 483.7 L986 493 L989 502.3 L992 511.6 L995 520.8 L998 529.8 L1001 538.8 L1004 547.7 L1007 556.4 L1010 565.1 L1013 573.8 L1016 582.2 L1019 590.5 L1022 598.4 L1025 606 L1028 613 L1031 619.5 L1034 625.3 L1037 630.5 L1040 635.1 L1043 639 L1046 642.3 L1049 644.9 L1052 647 L1055 648.5 L1058 649.4 L1061 649.7 L1064 649.6 L1066 649.2" stroke="#808080" stroke-width="1.25" stroke-dasharray="5.2 2.2"/>
<path d="M131 222.2 L134 223 L137 223.9 L140 224.7 L143 225.5 L146 226.3 L149 227.1 L152 227.9 L155 228.7 L158 229.4 L161 230.2 L164 230.9 L167 231.7 L170 232.4 L173 233.2 L176 233.9 L179 234.6 L182 235.4 L185 236.2 L188 236.9 L191 237.7 L194 238.5 L197 239.3 L200 240.1 L203 240.9 L206 241.8 L209 242.7 L212 243.6 L215 244.5 L218 245.4 L221 246.4 L224 247.4 L227 248.5 L230 249.5 L233 250.6 L236 251.8 L239 253 L242 254.2 L245 255.4 L248 256.7 L251 258.1 L254 259.5 L257 260.9 L260 262.3 L263 263.8 L266 265.3 L269 266.7 L272 268.2 L275 269.7 L278 271.1 L281 272.5 L284 273.8 L287 275.1 L290 276.3 L293 277.5 L296 278.6 L299 279.6 L302 280.5 L305 281.3 L308 282 L311 282.6 L314 283.1 L317 283.4 L320 283.7 L323 283.8 L326 283.9 L329 284 L332 284 L335 283.9 L338 283.9 L341 283.8 L344 283.8 L347 283.7 L350 283.7 L353 283.6 L356 283.6 L359 283.7 L362 283.7 L365 283.8 L368 283.9 L371 284.1 L374 284.3 L377 284.5 L380 284.8 L383 285.2 L386 285.6 L389 286.1 L392 286.7 L395 287.3 L398 288.1 L401 288.9 L404 289.8 L407 290.8 L410 291.9 L413 293.1 L416 294.4 L419 295.8 L422 297.3 L425 299 L428 300.7 L431 302.6 L434 304.5 L437 306.5 L440 308.6 L443 310.7 L446 312.9 L449 315.2 L452 317.4 L455 319.7 L458 322.1 L461 324.4 L464 326.7 L467 329 L470 331.3 L473 333.6 L476 335.8 L479 338 L482 340 L485 342 L488 343.9 L491 345.7 L494 347.4 L497 348.9 L500 350.3 L503 351.5 L506 352.6 L509 353.5 L512 354.4 L515 355.1 L518 355.7 L521 356.2 L524 356.6 L527 357 L530 357.3 L533 357.5 L536 357.7 L539 357.9 L542 358 L545 358.1 L548 358.2 L551 358.2 L554 358.3 L557 358.4 L560 358.5 L563 358.6 L566 358.7 L569 358.9 L572 359.1 L575 359.4 L578 359.7 L581 360 L584 360.4 L587 360.8 L590 361.2 L593 361.6 L596 362.1 L599 362.5 L602 362.9 L605 363.4 L608 363.8 L611 364.3 L614 364.8 L617 365.3 L620 365.8 L623 366.4 L626 367 L629 367.6 L632 368.3 L635 369 L638 369.8 L641 370.7 L644 371.6 L647 372.6 L650 373.7 L653 374.8 L656 376.1 L659 377.4 L662 378.8 L665 380.4 L668 382 L671 383.8 L674 385.7 L677 387.7 L680 389.8 L683 392.1 L686 394.5 L689 397 L692 399.5 L695 402.2 L698 404.9 L701 407.7 L704 410.5 L707 413.4 L710 416.2 L713 419 L716 421.9 L719 424.7 L722 427.4 L725 430.1 L728 432.8 L731 435.4 L734 437.9 L737 440.4 L740 442.8 L743 445.2 L746 447.4 L749 449.7 L752 451.8 L755 453.9 L758 455.8 L761 457.7 L764 459.6 L767 461.4 L770 463.2 L773 465 L776 467 L779 469 L782 471.2 L785 473.5 L788 476 L791 478.5 L794 481.2 L797 484 L800 486.7 L803 489.6 L806 492.4 L809 495.3 L812 498.1 L815 500.9 L818 503.6 L821 506.2 L824 508.7 L827 511 L830 513.1 L833 515 L836 516.6 L839 518.1 L842 519.4 L845 520.5 L848 521.6 L851 522.6 L854 523.6 L857 524.6 L860 525.6 L863 526.8 L866 528 L869 529.3 L872 530.9 L875 532.6 L878 534.6 L881 536.8 L884 539.2 L887 541.8 L890 544.7 L893 547.7 L896 551 L899 554.4 L902 558.1 L905 561.9 L908 565.9 L911 570.1 L914 574.4 L917 578.9 L920 583.5 L923 588.3 L926 593.2 L929 598.3 L932 603.5 L935 608.8 L938 614.3 L941 619.8 L944 625.5 L947 631.3 L950 637.2 L953 643.2 L956 649.4 L959 655.7 L962 662.2 L965 668.8 L968 675.6 L971 682.6 L974 689.8 L977 697.1 L980 704.7 L983 712.5 L986 720.5 L989 728.7 L992 737.2 L995 745.8 L998 754.5 L1001 763.2 L1004 771.9 L1007 780.5 L1010 789 L1013 797.3 L1016 805.4 L1019 813.1 L1022 820.5 L1025 827.5 L1028 834 L1031 839.9 L1034 845.3 L1037 850.1 L1040 854.4 L1043 858.2 L1046 861.7 L1049 864.9 L1052 867.8 L1055 870.5 L1058 873.2 L1061 875.8 L1064 878.5 L1066 880.3" stroke="#b8860b" stroke-width="1.25" stroke-dasharray="5.2 2.2"/>
<path d="M131 308.1 L134 308.6 L137 309.1 L140 309.7 L143 310.4 L146 311 L149 311.8 L152 312.5 L155 313.3 L158 314.1 L161 314.9 L164 315.8 L167 316.7 L170 317.6 L173 318.5 L176 319.5 L179 320.4 L182 321.4 L185 322.4 L188 323.4 L191 324.4 L194 325.4 L197 326.4 L200 327.4 L203 328.4 L206 329.4 L209 330.4 L212 331.4 L215 332.3 L218 333.3 L221 334.2 L224 335.1 L227 336 L230 336.9 L233 337.8 L236 338.6 L239 339.4 L242 340.1 L245 340.9 L248 341.6 L251 342.2 L254 342.9 L257 343.5 L260 344.1 L263 344.6 L266 345.2 L269 345.7 L272 346.2 L275 346.6 L278 347.1 L281 347.5 L284 348 L287 348.4 L290 348.8 L293 349.2 L296 349.5 L299 349.9 L302 350.2 L305 350.6 L308 350.9 L311 351.3 L314 351.6 L317 352 L320 352.3 L323 352.7 L326 353.1 L329 353.5 L332 353.9 L335 354.3 L338 354.8 L341 355.3 L344 355.8 L347 356.4 L350 357 L353 357.7 L356 358.4 L359 359.1 L362 359.9 L365 360.7 L368 361.6 L371 362.6 L374 363.6 L377 364.7 L380 365.9 L383 367.1 L386 368.4 L389 369.8 L392 371.2 L395 372.8 L398 374.4 L401 376.1 L404 377.9 L407 379.8 L410 381.7 L413 383.7 L416 385.6 L419 387.5 L422 389.4 L425 391.3 L428 393.1 L431 394.7 L434 396.3 L437 397.8 L440 399.2 L443 400.6 L446 401.9 L449 403.2 L452 404.5 L455 405.8 L458 407.1 L461 408.5 L464 409.9 L467 411.3 L470 412.8 L473 414.3 L476 415.8 L479 417.4 L482 419 L485 420.6 L488 422.2 L491 423.9 L494 425.6 L497 427.2 L500 429 L503 430.7 L506 432.4 L509 434.1 L512 435.9 L515 437.6 L518 439.3 L521 441 L524 442.8 L527 444.5 L530 446.2 L533 447.9 L536 449.5 L539 451.2 L542 452.8 L545 454.4 L548 456 L551 457.6 L554 459.1 L557 460.6 L560 462.1 L563 463.5 L566 464.8 L569 466.2 L572 467.5 L575 468.7 L578 469.9 L581 471 L584 472.1 L587 473.2 L590 474.1 L593 475 L596 475.9 L599 476.7 L602 477.4 L605 478.2 L608 478.9 L611 479.6 L614 480.3 L617 481 L620 481.7 L623 482.4 L626 483.1 L629 483.9 L632 484.7 L635 485.6 L638 486.5 L641 487.5 L644 488.6 L647 489.7 L650 491 L653 492.3 L656 493.7 L659 495.2 L662 496.8 L665 498.4 L668 500.2 L671 501.9 L674 503.8 L677 505.6 L680 507.6 L683 509.5 L686 511.5 L689 513.5 L692 515.5 L695 517.6 L698 519.6 L701 521.7 L704 523.7 L707 525.7 L710 527.8 L713 529.8 L716 531.8 L719 533.7 L722 535.7 L725 537.6 L728 539.5 L731 541.3 L734 543.2 L737 544.9 L740 546.7 L743 548.4 L746 550 L749 551.6 L752 553.2 L755 554.7 L758 556.1 L761 557.5 L764 558.9 L767 560.1 L770 561.3 L773 562.5 L776 563.7 L779 564.8 L782 565.9 L785 567 L788 568.1 L791 569.2 L794 570.3 L797 571.5 L800 572.6 L803 573.8 L806 575 L809 576.3 L812 577.5 L815 578.8 L818 580.1 L821 581.5 L824 582.8 L827 584.1 L830 585.5 L833 586.9 L836 588.3 L839 589.6 L842 591 L845 592.4 L848 593.8 L851 595.2 L854 596.5 L857 597.9 L860 599.4 L863 600.8 L866 602.4 L869 603.9 L872 605.5 L875 607.2 L878 608.9 L881 610.7 L884 612.6 L887 614.6 L890 616.7 L893 618.9 L896 621.2 L899 623.6 L902 626.2 L905 628.9 L908 631.7 L911 634.7 L914 637.8 L917 641 L920 644.5 L923 648.1 L926 651.8 L929 655.7 L932 659.8 L935 664 L938 668.4 L941 673 L944 677.8 L947 682.7 L950 687.8 L953 693.2 L956 698.7 L959 704.4 L962 710.3 L965 716.4 L968 722.8 L971 729.4 L974 736.2 L977 743.3 L980 750.7 L983 758.3 L986 766.2 L989 774.3 L992 782.6 L995 791 L998 799.2 L1001 807 L1004 814.2 L1007 820.9 L1010 826.9 L1013 832.4 L1016 837.3 L1019 841.7 L1022 845.6 L1025 849.1 L1028 852.1 L1031 854.7 L1034 856.9 L1037 858.8 L1040 860.3 L1043 861.6 L1046 862.6 L1049 863.4 L1052 864 L1055 864.4 L1058 864.7 L1061 864.8 L1064 864.9 L1066 864.9" stroke="#0000ff" stroke-width="1.25" stroke-dasharray="5.2 2.2"/>
<path d="M131 529.4 L134 529.9 L137 530.4 L140 530.9 L143 531.3 L146 531.8 L149 532.3 L152 532.7 L155 533.2 L158 533.6 L161 534 L164 534.5 L167 534.9 L170 535.3 L173 535.7 L176 536.1 L179 536.5 L182 536.9 L185 537.3 L188 537.6 L191 538 L194 538.4 L197 538.8 L200 539.1 L203 539.5 L206 539.8 L209 540.2 L212 540.5 L215 540.9 L218 541.2 L221 541.5 L224 541.9 L227 542.2 L230 542.5 L233 542.8 L236 543.1 L239 543.5 L242 543.8 L245 544.1 L248 544.4 L251 544.7 L254 545 L257 545.4 L260 545.7 L263 546 L266 546.3 L269 546.6 L272 546.9 L275 547.2 L278 547.5 L281 547.8 L284 548.1 L287 548.5 L290 548.8 L293 549.1 L296 549.4 L299 549.7 L302 550 L305 550.4 L308 550.7 L311 551 L314 551.3 L317 551.7 L320 552 L323 552.4 L326 552.7 L329 553 L332 553.4 L335 553.8 L338 554.1 L341 554.5 L344 554.8 L347 555.2 L350 555.6 L353 556 L356 556.4 L359 556.8 L362 557.2 L365 557.6 L368 558 L371 558.4 L374 558.8 L377 559.3 L380 559.7 L383 560.1 L386 560.6 L389 561 L392 561.5 L395 562 L398 562.5 L401 563 L404 563.5 L407 564 L410 564.5 L413 565 L416 565.6 L419 566.1 L422 566.7 L425 567.2 L428 567.8 L431 568.4 L434 569 L437 569.6 L440 570.2 L443 570.8 L446 571.5 L449 572.1 L452 572.8 L455 573.4 L458 574.1 L461 574.8 L464 575.5 L467 576.2 L470 577 L473 577.7 L476 578.5 L479 579.3 L482 580 L485 580.8 L488 581.7 L491 582.5 L494 583.3 L497 584.2 L500 585.2 L503 586.3 L506 587.5 L509 588.9 L512 590.2 L515 591.7 L518 593.2 L521 594.8 L524 596.4 L527 598 L530 599.6 L533 601.3 L536 602.9 L539 604.5 L542 606 L545 607.6 L548 609 L551 610.4 L554 611.7 L557 613 L560 614.1 L563 615.3 L566 616.4 L569 617.5 L572 618.5 L575 619.5 L578 620.5 L581 621.6 L584 622.6 L587 623.7 L590 624.7 L593 625.9 L596 627 L599 628.3 L602 629.5 L605 630.9 L608 632.3 L611 633.7 L614 635.2 L617 636.8 L620 638.3 L623 639.9 L626 641.5 L629 643.1 L632 644.7 L635 646.3 L638 647.9 L641 649.6 L644 651.2 L647 652.8 L650 654.4 L653 656 L656 657.6 L659 659.3 L662 660.9 L665 662.5 L668 664.1 L671 665.7 L674 667.3 L677 668.9 L680 670.5 L683 672.1 L686 673.7 L689 675.3 L692 676.9 L695 678.4 L698 680 L701 681.6 L704 683.1 L707 684.7 L710 686.2 L713 687.7 L716 689.3 L719 690.8 L722 692.3 L725 693.8 L728 695.3 L731 696.7 L734 698.2 L737 699.7 L740 701.1 L743 702.6 L746 704 L749 705.4 L752 706.8 L755 708.2 L758 709.6 L761 710.9 L764 712.3 L767 713.6 L770 714.9 L773 716.2 L776 717.5 L779 718.8 L782 720.1 L785 721.4 L788 722.7 L791 724 L794 725.2 L797 726.5 L800 727.8 L803 729.1 L806 730.3 L809 731.6 L812 732.9 L815 734.2 L818 735.5 L821 736.8 L824 738.1 L827 739.4 L830 740.8 L833 742.1 L836 743.4 L839 744.6 L842 745.9 L845 747.1 L848 748.3 L851 749.4 L854 750.5 L857 751.5 L860 752.4 L863 753.3 L866 754.1 L869 754.8 L872 755.4 L875 755.9 L878 756.4 L881 756.9 L884 757.3 L887 757.8 L890 758.2 L893 758.7 L896 759.2 L899 759.8 L902 760.5 L905 761.3 L908 762.1 L911 763.1 L914 764.3 L917 765.6 L920 767 L923 768.6 L926 770.3 L929 772 L932 773.9 L935 775.9 L938 777.9 L941 780 L944 782.2 L947 784.4 L950 786.6 L953 788.9 L956 791.2 L959 793.7 L962 796.2 L965 799 L968 802 L971 805.2 L974 808.8 L977 812.7 L980 816.9 L983 821.6 L986 826.6 L989 831.9 L992 837.3 L995 842.9 L998 848.6 L1001 854.2 L1004 859.7 L1007 865.1 L1010 870.3 L1013 875.1 L1016 879.6 L1019 883.9 L1022 887.9 L1025 891.6 L1028 895 L1031 898.2 L1034 901.2 L1037 903.9 L1040 906.4 L1043 908.8 L1046 910.9 L1049 912.8 L1052 914.6 L1055 916.2 L1058 917.7 L1061 919 L1064 920.2 L1066 921" stroke="#000000" stroke-width="1.25" stroke-dasharray="5.2 2.2"/>
</g>
<path d="M238.5 924.2v-9.7M445.4 924.2v-9.7M652.3 924.2v-9.7M859.2 924.2v-9.7M130.9 70.6h9.7M130.9 184.5h9.7M130.9 298.4h9.7M130.9 412.3h9.7M130.9 526.2h9.7M130.9 640.1h9.7M130.9 754h9.7M130.9 867.9h9.7" stroke="#000" stroke-width="2.5" fill="none"/>
<rect x="130.9" y="13.9" width="934.9" height="910.3" fill="none" stroke="#000" stroke-width="2.5"/>
<text x="238.5" y="958" font-size="30.85" text-anchor="middle" fill="#000" stroke="#000" font-family='"DejaVu Sans","Liberation Sans",sans-serif' >540</text>
<text x="445.4" y="958" font-size="30.85" text-anchor="middle" fill="#000" stroke="#000" font-family='"DejaVu Sans","Liberation Sans",sans-serif' >560</text>
<text x="652.3" y="958" font-size="30.85" text-anchor="middle" fill="#000" stroke="#000" font-family='"DejaVu Sans","Liberation Sans",sans-serif' >580</text>
<text x="859.2" y="958" font-size="30.85" text-anchor="middle" fill="#000" stroke="#000" font-family='"DejaVu Sans","Liberation Sans",sans-serif' >600</text>
<text x="1066.1" y="958" font-size="30.85" text-anchor="middle" fill="#000" stroke="#000" font-family='"DejaVu Sans","Liberation Sans",sans-serif' >620</text>
<text x="121.9" y="82.3" font-size="30.85" text-anchor="end" fill="#000" stroke="#000" font-family='"DejaVu Sans","Liberation Sans",sans-serif' >2200</text>
<text x="121.9" y="196.2" font-size="30.85" text-anchor="end" fill="#000" stroke="#000" font-family='"DejaVu Sans","Liberation Sans",sans-serif' >2000</text>
<text x="121.9" y="310.1" font-size="30.85" text-anchor="end" fill="#000" stroke="#000" font-family='"DejaVu Sans","Liberation Sans",sans-serif' >1800</text>
<text x="121.9" y="424" font-size="30.85" text-anchor="end" fill="#000" stroke="#000" font-family='"DejaVu Sans","Liberation Sans",sans-serif' >1600</text>
<text x="121.9" y="537.9" font-size="30.85" text-anchor="end" fill="#000" stroke="#000" font-family='"DejaVu Sans","Liberation Sans",sans-serif' >1400</text>
<text x="121.9" y="651.8" font-size="30.85" text-anchor="end" fill="#000" stroke="#000" font-family='"DejaVu Sans","Liberation Sans",sans-serif' >1200</text>
<text x="121.9" y="765.7" font-size="30.85" text-anchor="end" fill="#000" stroke="#000" font-family='"DejaVu Sans","Liberation Sans",sans-serif' >1000</text>
<text x="121.9" y="879.6" font-size="30.85" text-anchor="end" fill="#000" stroke="#000" font-family='"DejaVu Sans","Liberation Sans",sans-serif' >800</text>
<text x="598.3" y="998.1" font-size="30.85" text-anchor="middle" fill="#000" stroke="#000" font-family='"DejaVu Sans","Liberation Sans",sans-serif' >Along-slope distance (km)</text>
<text transform="translate(23.6 539) rotate(-90)" font-size="30.85" font-family='"DejaVu Sans","Liberation Sans",sans-serif' fill="#000" stroke="#000"><tspan x="0" y="0" font-style="italic">H</tspan><tspan x="23" y="5.9" font-size="21.6" font-style="italic">DSW</tspan><tspan x="85.6" y="0">(m)</tspan></text>
<rect x="146.3" y="629.5" width="253.1" height="279.9" rx="5.5" fill="#fff" fill-opacity="0.8" stroke="#ccc" stroke-width="2.7"/>
<path d="M156.4 654.6H222.1" stroke="#ff0000" stroke-width="4.2"/>
<text x="244.2" y="662.7" font-size="30.85" fill="#000" stroke="#000" font-family='"DejaVu Sans","Liberation Sans",sans-serif'><tspan font-style="italic">s</tspan><tspan x="266.1" stroke-width="0">=</tspan><tspan x="298">0.15</tspan></text>
<path d="M156.4 699.7H222.1" stroke="#bf00bf" stroke-width="4.2"/>
<text x="244.2" y="707.8" font-size="30.85" fill="#000" stroke="#000" font-family='"DejaVu Sans","Liberation Sans",sans-serif'><tspan font-style="italic">s</tspan><tspan x="266.1" stroke-width="0">=</tspan><tspan x="298">0.125</tspan></text>
<path d="M156.4 744.7H222.1" stroke="#808080" stroke-width="4.2"/>
<text x="244.2" y="752.8" font-size="30.85" fill="#000" stroke="#000" font-family='"DejaVu Sans","Liberation Sans",sans-serif'><tspan font-style="italic">s</tspan><tspan x="266.1" stroke-width="0">=</tspan><tspan x="298">0.1</tspan></text>
<path d="M156.4 789.8H222.1" stroke="#b8860b" stroke-width="4.2"/>
<text x="244.2" y="797.9" font-size="30.85" fill="#000" stroke="#000" font-family='"DejaVu Sans","Liberation Sans",sans-serif'><tspan font-style="italic">s</tspan><tspan x="266.1" stroke-width="0">=</tspan><tspan x="298">0.067</tspan></text>
<path d="M156.4 834.9H222.1" stroke="#0000ff" stroke-width="4.2"/>
<text x="244.2" y="843" font-size="30.85" fill="#000" stroke="#000" font-family='"DejaVu Sans","Liberation Sans",sans-serif'><tspan font-style="italic">s</tspan><tspan x="266.1" stroke-width="0">=</tspan><tspan x="298">0.05</tspan></text>
<path d="M156.4 880H222.1" stroke="#000000" stroke-width="4.2"/>
<text x="244.2" y="888.1" font-size="30.85" fill="#000" stroke="#000" font-family='"DejaVu Sans","Liberation Sans",sans-serif'><tspan font-style="italic">s</tspan><tspan x="266.1" stroke-width="0">=</tspan><tspan x="298">0.033</tspan></text>
<text x="42.6" y="21" font-size="38.4" text-anchor="start" fill="#000" stroke="#000" font-family='"Liberation Sans","DejaVu Sans",sans-serif' style="stroke-width:0">a</text>
</g>
<g id="panel-b">
<circle cx="174" cy="1308.2" r="12.5" fill="#ff0000"/>
<circle cx="297.5" cy="1232" r="12.5" fill="#ff0000"/>
<circle cx="421" cy="1188.3" r="12.5" fill="#ff0000"/>
<circle cx="660.7" cy="1102" r="12.5" fill="#ff0000"/>
<circle cx="842.3" cy="1195.5" r="12.5" fill="#ff0000"/>
<circle cx="1023.8" cy="1172" r="12.5" fill="#ff0000"/>
<circle cx="174" cy="1301.5" r="12.5" fill="#0000ff"/>
<circle cx="297.5" cy="1242.5" r="12.5" fill="#0000ff"/>
<circle cx="421" cy="1203.2" r="12.5" fill="#0000ff"/>
<circle cx="660.7" cy="1119.5" r="12.5" fill="#0000ff"/>
<circle cx="842.3" cy="1084" r="12.5" fill="#0000ff"/>
<circle cx="1023.8" cy="1060.5" r="12.5" fill="#0000ff"/>
<path d="M225.2 1341.6v-9.7M370.4 1341.6v-9.7M515.6 1341.6v-9.7M660.8 1341.6v-9.7M806 1341.6v-9.7M951.2 1341.6v-9.7M132.0 1102.9h9.7M132.0 1211.5h9.7M132.0 1320.1h9.7" stroke="#000" stroke-width="2.5" fill="none"/>
<rect x="132.0" y="1038.3" width="934.6" height="303.3" fill="none" stroke="#000" stroke-width="2.5"/>
<text x="225" y="1374.6" font-size="30.85" text-anchor="middle" fill="#000" stroke="#000" font-family='"DejaVu Sans","Liberation Sans",sans-serif' >0.04</text>
<text x="370.2" y="1374.6" font-size="30.85" text-anchor="middle" fill="#000" stroke="#000" font-family='"DejaVu Sans","Liberation Sans",sans-serif' >0.06</text>
<text x="515.4" y="1374.6" font-size="30.85" text-anchor="middle" fill="#000" stroke="#000" font-family='"DejaVu Sans","Liberation Sans",sans-serif' >0.08</text>
<text x="660.6" y="1374.6" font-size="30.85" text-anchor="middle" fill="#000" stroke="#000" font-family='"DejaVu Sans","Liberation Sans",sans-serif' >0.10</text>
<text x="805.8" y="1374.6" font-size="30.85" text-anchor="middle" fill="#000" stroke="#000" font-family='"DejaVu Sans","Liberation Sans",sans-serif' >0.12</text>
<text x="951" y="1374.6" font-size="30.85" text-anchor="middle" fill="#000" stroke="#000" font-family='"DejaVu Sans","Liberation Sans",sans-serif' >0.14</text>
<text x="121.9" y="1114.6" font-size="30.85" text-anchor="end" fill="#000" stroke="#000" font-family='"DejaVu Sans","Liberation Sans",sans-serif' >2000</text>
<text x="121.9" y="1223.2" font-size="30.85" text-anchor="end" fill="#000" stroke="#000" font-family='"DejaVu Sans","Liberation Sans",sans-serif' >1500</text>
<text x="121.9" y="1331.8" font-size="30.85" text-anchor="end" fill="#000" stroke="#000" font-family='"DejaVu Sans","Liberation Sans",sans-serif' >1000</text>
<text x="599" y="1415.4" font-size="30.85" text-anchor="middle" fill="#000" stroke="#000" font-family='"DejaVu Sans","Liberation Sans",sans-serif' >Slope</text>
<text transform="translate(24.2 1259.6) rotate(-90)" font-size="30.85" font-family='"DejaVu Sans","Liberation Sans",sans-serif' fill="#000" stroke="#000"><tspan x="0" y="0" font-style="italic">H</tspan><tspan x="23" y="5.9" font-size="21.6" font-style="italic">DSW</tspan><tspan x="85.6" y="0">(m)</tspan></text>
<rect x="145.6" y="1052" width="192" height="90.5" rx="5.5" fill="#fff" fill-opacity="0.8" stroke="#ccc" stroke-width="2.7"/>
<circle cx="184.7" cy="1074.6" r="12.5" fill="#ff0000"/>
<circle cx="184.7" cy="1115.6" r="12.5" fill="#0000ff"/>
<text x="234.6" y="1084.6" font-size="28.0" text-anchor="start" fill="#000" stroke="#000" font-family='"DejaVu Sans","Liberation Sans",sans-serif' >Notide</text>
<text x="234.6" y="1125.7" font-size="28.0" text-anchor="start" fill="#000" stroke="#000" font-family='"DejaVu Sans","Liberation Sans",sans-serif' >Tide</text>
<text x="42.8" y="1033.2" font-size="38.4" text-anchor="start" fill="#000" stroke="#000" font-family='"Liberation Sans","DejaVu Sans",sans-serif' style="stroke-width:0">b</text>
</g>
<g id="panel-c">
<path d="M1538.8 13.9V712.2" stroke="#808080" stroke-width="1.9"/>
<g fill="none" stroke-linejoin="round">
<g clip-path="url(#c1)"><path d="M1229.2 239.6 L1241.1 239.2 L1252.9 239.2 L1264.8 239 L1276.6 238.1 L1288.5 237.7 L1300.3 235.3 L1312.2 234.8 L1324 231.8 L1335.9 229.9 L1347.8 227.1 L1359.6 221 L1371.4 217.4 L1383.3 211.7 L1395.1 200.9 L1407 195 L1418.8 180.2 L1430.7 172.2 L1442.5 158.2 L1454.4 138.1 L1466.2 129 L1478.1 107 L1489.9 103.2 L1501.8 90.3 L1513.6 67.2 L1525.5 57.5 L1537.3 35.5 L1549.2 90.1 L1561 139.6 L1572.9 195.8 L1584.8 245.3 L1596.6 246.2 L1608.4 246.6 L2005 246.6" stroke="#ff0000" stroke-width="4.2"/><path d="M1229.2 242.6 L1241.1 242.4 L1252.9 241.9 L1264.8 241.3 L1276.6 240.7 L1288.5 239.8 L1300.3 238.6 L1312.2 237.7 L1324 236 L1335.9 235.2 L1347.8 233.3 L1359.6 228.8 L1371.4 226.5 L1383.3 223.3 L1395.1 217.6 L1407 214.7 L1418.8 206 L1430.7 201.8 L1442.5 194.4 L1454.4 184 L1466.2 180.6 L1478.1 170.5 L1489.9 169.6 L1501.8 165 L1513.6 151.8 L1525.5 145.9 L1537.3 132 L1549.2 114.2 L1561 121.4 L1572.9 122.2 L1584.8 139.6 L1596.6 147.2 L1608.4 147.6 L1620.3 154.8 L1632.1 152.7 L1644 152.7 L1655.8 180.2 L1667.7 209 L1679.5 232.2 L1691.4 241.3 L1703.2 244.7 L1715.1 246 L1726.9 246.4 L1738.8 246.6 L2005 246.6" stroke="#ff0000" stroke-width="4.2" stroke-dasharray="15.4 6.7"/></g>
<g clip-path="url(#c2)"><path d="M1229.2 476.1 L1241.1 475.5 L1252.9 474.9 L1264.8 474.2 L1276.6 473.3 L1288.5 472.3 L1300.3 471.4 L1312.2 470.4 L1324 469.7 L1335.9 468.9 L1347.8 467.9 L1359.6 464.9 L1371.4 464.9 L1383.3 462.4 L1395.1 459 L1407 457.5 L1418.8 451.8 L1430.7 451.8 L1442.5 445.9 L1454.4 441.7 L1466.2 435.9 L1478.1 426.8 L1489.9 421.6 L1501.8 409.9 L1513.6 392.6 L1525.5 379 L1537.3 368.9 L1549.2 363.8 L1561 376.7 L1572.9 379.5 L1584.8 389.6 L1596.6 395.5 L1608.4 391.3 L1620.3 396.6 L1632.1 395.1 L1644 392 L1655.8 396 L1667.7 390.9 L1679.5 401 L1691.4 400.4 L1703.2 408 L1715.1 441 L1726.9 462 L1738.8 474.9 L1750.6 477 L1762.5 478 L1774.3 478.5 L1786.2 478.9 L1798 479.1 L1809.9 479.3 L1821.8 479.3 L1833.6 479.3 L1845.4 479.3 L1857.3 479.3 L1869.1 479.3 L1881 479.3 L1892.8 479.3 L1904.7 479.3 L1916.5 479.3 L1928.4 479.3 L1940.2 479.3 L1952.1 479.3 L1963.9 479.3 L1975.8 479.3 L1987.6 479.3 L1999.5 479.3 L2005 479.3" stroke="#b8860b" stroke-width="4.2"/><path d="M1229.2 475.7 L1241.1 475.1 L1252.9 474.3 L1264.8 473.6 L1276.6 472.6 L1288.5 471.7 L1300.3 470.6 L1312.2 469.6 L1324 468.6 L1335.9 467.7 L1347.8 466.6 L1359.6 463.6 L1371.4 464.1 L1383.3 461.1 L1395.1 457.7 L1407 456.5 L1418.8 451 L1430.7 450.5 L1442.5 445 L1454.4 441.2 L1466.2 436.2 L1478.1 427.7 L1489.9 423 L1501.8 412.9 L1513.6 396 L1525.5 382.9 L1537.3 374.8 L1549.2 372.3 L1561 379 L1572.9 383.1 L1584.8 390.9 L1596.6 395.1 L1608.4 393 L1620.3 397 L1632.1 398.9 L1644 391.5 L1655.8 394.3 L1667.7 383.7 L1679.5 401 L1691.4 409.9 L1703.2 422 L1715.1 431.1 L1726.9 446.9 L1738.8 466 L1750.6 473.8 L1762.5 476.6 L1774.3 478 L1786.2 478.9 L1798 479.1 L1809.9 479.3 L1821.8 479.3 L1833.6 479.3 L1845.4 479.3 L1857.3 479.3 L1869.1 479.3 L1881 479.3 L1892.8 479.3 L1904.7 479.3 L1916.5 479.3 L1928.4 479.3 L1940.2 479.3 L1952.1 479.3 L1963.9 479.3 L1975.8 479.3 L1987.6 479.3 L1999.5 479.3 L2005 479.3" stroke="#b8860b" stroke-width="4.2" stroke-dasharray="15.4 6.7"/></g>
<g clip-path="url(#c3)"><path d="M1229.2 708.1 L1241.1 707.5 L1252.9 706.8 L1264.8 706.1 L1276.6 705.3 L1288.5 704.6 L1300.3 704.2 L1312.2 703.7 L1324 702.9 L1335.9 702 L1347.8 701.2 L1359.6 699.5 L1371.4 699.3 L1383.3 698.2 L1395.1 696.5 L1407 696.1 L1418.8 692.7 L1430.7 692.3 L1442.5 690.4 L1454.4 686.8 L1466.2 686 L1478.1 682.2 L1489.9 681.3 L1501.8 678.4 L1513.6 671.8 L1525.5 671.8 L1537.3 671.4 L1549.2 668.4 L1561 669.5 L1572.9 664.4 L1584.8 665.5 L1596.6 664.4 L1608.4 660 L1620.3 661.9 L1632.1 660 L1644 656.4 L1655.8 657.8 L1667.7 651.9 L1679.5 650.4 L1691.4 649.4 L1703.2 646.4 L1715.1 650.9 L1726.9 646.4 L1738.8 648.5 L1750.6 648.5 L1762.5 647.9 L1774.3 655.9 L1786.2 661.9 L1798 661.9 L1809.9 667.6 L1821.8 664.4 L1833.6 668.4 L1845.4 670.5 L1857.3 669.9 L1869.1 673.5 L1881 675.4 L1892.8 681.5 L1904.7 686.8 L1916.5 692.5 L1928.4 697.8 L1940.2 700.8 L1952.1 702.9 L1963.9 704.2 L1975.8 706.3 L1987.6 707.8 L1999.5 708.8 L2011.3 709.7" stroke="#000" stroke-width="4.2"/><path d="M1229.2 708.6 L1241.1 708 L1252.9 707.1 L1264.8 706.3 L1276.6 705.5 L1288.5 704.8 L1300.3 704.4 L1312.2 704 L1324 703.2 L1335.9 702.5 L1347.8 701.6 L1359.6 699.9 L1371.4 699.9 L1383.3 699.1 L1395.1 697.4 L1407 697 L1418.8 694 L1430.7 694 L1442.5 692.7 L1454.4 689.8 L1466.2 690.4 L1478.1 685.6 L1489.9 685.6 L1501.8 683.4 L1513.6 678.4 L1525.5 678.8 L1537.3 677.9 L1549.2 672.9 L1561 674.3 L1572.9 669.9 L1584.8 671 L1596.6 669.9 L1608.4 666.9 L1620.3 667.8 L1632.1 665.9 L1644 660 L1655.8 662.3 L1667.7 657 L1679.5 660.4 L1691.4 658.3 L1703.2 653.8 L1715.1 655.9 L1726.9 650.9 L1738.8 655.5 L1750.6 657.4 L1762.5 650.9 L1774.3 655.5 L1786.2 657.4 L1798 654.2 L1809.9 655.9 L1821.8 654.9 L1833.6 660.8 L1845.4 664 L1857.3 663.3 L1869.1 668.8 L1881 670.5 L1892.8 676.9 L1904.7 680.9 L1916.5 682 L1928.4 687.9 L1940.2 691.9 L1952.1 692.7 L1963.9 694.9 L1975.8 697.4 L1987.6 699.5 L1999.5 701.8 L2011.3 703.3" stroke="#000" stroke-width="4.2" stroke-dasharray="15.4 6.7"/></g>
</g>
<path d="M1236.6 246.6h8.3M1236.6 162h8.3M1236.6 77.4h8.3M1236.6 479.3h8.3M1236.6 394.7h8.3M1236.6 310.1h8.3M1236.6 712.2h8.3M1236.6 627.6h8.3M1236.6 543h8.3" stroke="#000" stroke-width="2.5" fill="none"/>
<path d="M1354 246.6v-8.3M1471.4 246.6v-8.3M1588.8 246.6v-8.3M1706.2 246.6v-8.3M1823.6 246.6v-8.3M1941 246.6v-8.3M1354 479.3v-8.3M1471.4 479.3v-8.3M1588.8 479.3v-8.3M1706.2 479.3v-8.3M1823.6 479.3v-8.3M1941 479.3v-8.3M1354 712.2v-8.3M1471.4 712.2v-8.3M1588.8 712.2v-8.3M1706.2 712.2v-8.3M1823.6 712.2v-8.3M1941 712.2v-8.3" stroke="#000" stroke-width="1.7" fill="none"/>
<rect x="1236.6" y="13.9" width="763.3" height="232.7" fill="none" stroke="#000" stroke-width="2.5"/>
<rect x="1236.6" y="246.6" width="763.3" height="232.7" fill="none" stroke="#000" stroke-width="2.5"/>
<rect x="1236.6" y="479.3" width="763.3" height="232.9" fill="none" stroke="#000" stroke-width="2.5"/>
<text x="1226.4" y="257.3" font-size="28.05" text-anchor="end" fill="#000" stroke="#000" font-family='"DejaVu Sans","Liberation Sans",sans-serif' >0</text>
<text x="1226.4" y="172.7" font-size="28.05" text-anchor="end" fill="#000" stroke="#000" font-family='"DejaVu Sans","Liberation Sans",sans-serif' >20</text>
<text x="1226.4" y="88.1" font-size="28.05" text-anchor="end" fill="#000" stroke="#000" font-family='"DejaVu Sans","Liberation Sans",sans-serif' >40</text>
<text x="1226.4" y="490" font-size="28.05" text-anchor="end" fill="#000" stroke="#000" font-family='"DejaVu Sans","Liberation Sans",sans-serif' >0</text>
<text x="1226.4" y="405.4" font-size="28.05" text-anchor="end" fill="#000" stroke="#000" font-family='"DejaVu Sans","Liberation Sans",sans-serif' >20</text>
<text x="1226.4" y="320.8" font-size="28.05" text-anchor="end" fill="#000" stroke="#000" font-family='"DejaVu Sans","Liberation Sans",sans-serif' >40</text>
<text x="1226.4" y="722.9" font-size="28.05" text-anchor="end" fill="#000" stroke="#000" font-family='"DejaVu Sans","Liberation Sans",sans-serif' >0</text>
<text x="1226.4" y="638.3" font-size="28.05" text-anchor="end" fill="#000" stroke="#000" font-family='"DejaVu Sans","Liberation Sans",sans-serif' >20</text>
<text x="1226.4" y="553.7" font-size="28.05" text-anchor="end" fill="#000" stroke="#000" font-family='"DejaVu Sans","Liberation Sans",sans-serif' >40</text>
<text x="1236.6" y="743" font-size="28.05" text-anchor="middle" fill="#000" stroke="#000" font-family='"DejaVu Sans","Liberation Sans",sans-serif' >27.82</text>
<text x="1354" y="743" font-size="28.05" text-anchor="middle" fill="#000" stroke="#000" font-family='"DejaVu Sans","Liberation Sans",sans-serif' >27.84</text>
<text x="1471.4" y="743" font-size="28.05" text-anchor="middle" fill="#000" stroke="#000" font-family='"DejaVu Sans","Liberation Sans",sans-serif' >27.86</text>
<text x="1588.8" y="743" font-size="28.05" text-anchor="middle" fill="#000" stroke="#000" font-family='"DejaVu Sans","Liberation Sans",sans-serif' >27.88</text>
<text x="1706.2" y="743" font-size="28.05" text-anchor="middle" fill="#000" stroke="#000" font-family='"DejaVu Sans","Liberation Sans",sans-serif' >27.90</text>
<text x="1823.6" y="743" font-size="28.05" text-anchor="middle" fill="#000" stroke="#000" font-family='"DejaVu Sans","Liberation Sans",sans-serif' >27.92</text>
<text x="1941" y="743" font-size="28.05" text-anchor="middle" fill="#000" stroke="#000" font-family='"DejaVu Sans","Liberation Sans",sans-serif' >27.94</text>
<text x="1618.2" y="781" font-size="28.05" text-anchor="middle" fill="#000" stroke="#000" font-family='"DejaVu Sans","Liberation Sans",sans-serif' >Fluid density (kg/m³)</text>
<text transform="translate(1174.7 362.5) rotate(-90)" font-size="28.2" text-anchor="middle" font-family='"DejaVu Sans","Liberation Sans",sans-serif' fill="#000" stroke="#000">Tracer probability density (m³/kg)</text>
<text x="1295" y="97.1" font-size="26.7" fill="#ff0000" stroke="#ff0000" font-family='"DejaVu Sans","Liberation Sans",sans-serif'><tspan font-style="italic">s</tspan><tspan x="1314" stroke-width="0">=</tspan><tspan x="1341.6">0.15</tspan></text>
<text x="1295" y="330.3" font-size="26.7" fill="#b8860b" stroke="#b8860b" font-family='"DejaVu Sans","Liberation Sans",sans-serif'><tspan font-style="italic">s</tspan><tspan x="1314" stroke-width="0">=</tspan><tspan x="1341.6">0.067</tspan></text>
<text x="1295" y="563.2" font-size="26.7" fill="#000" stroke="#000" font-family='"DejaVu Sans","Liberation Sans",sans-serif'><tspan font-style="italic">s</tspan><tspan x="1314" stroke-width="0">=</tspan><tspan x="1341.6">0.033</tspan></text>
<text x="1588.5" y="77.4" font-size="26.7" text-anchor="start" fill="#000" stroke="#000" font-family='"DejaVu Sans","Liberation Sans",sans-serif' >steep slope, TRWs suppressed</text>
<text x="1618.3" y="310" font-size="26.7" text-anchor="start" fill="#000" stroke="#000" font-family='"DejaVu Sans","Liberation Sans",sans-serif' >moderate slope, TRWs form</text>
<text x="1665" y="543.6" font-size="26.7" text-anchor="start" fill="#000" stroke="#000" font-family='"DejaVu Sans","Liberation Sans",sans-serif' >small slope, eddies form</text>
<text x="1178.8" y="21.2" font-size="38.4" text-anchor="start" fill="#000" stroke="#000" font-family='"Liberation Sans","DejaVu Sans",sans-serif' style="stroke-width:0">c</text>
</g>
<g id="panel-d">
<g clip-path="url(#cd)" fill="none" stroke-linejoin="round">
<path d="M1224.9 1326.2 L1243 1325.4 L1261.1 1325.4 L1279.3 1324.9 L1297.4 1323.1 L1315.5 1322.2 L1333.7 1317.2 L1351.8 1316 L1369.9 1309.9 L1388 1305.9 L1406.2 1300.1 L1424.3 1287.3 L1442.4 1279.8 L1460.6 1267.9 L1478.7 1245.3 L1496.8 1233 L1515 1202 L1533.1 1185.2 L1551.2 1156 L1569.3 1114.1 L1587.5 1095 L1605.6 1049.1 L1623.7 1041.1 L1641.9 1014.2 L1660 966 L1678.1 945.7 L1696.2 899.7 L1714.4 1013.7 L1732.5 1117.1 L1750.6 1234.7 L1768.8 1338.1 L1786.9 1339.9 L1805 1340.8 L2005 1340.8" stroke="#ff0000" stroke-width="4.2"/>
<path d="M1224.9 1329.3 L1243 1328.9 L1261.1 1327.5 L1279.3 1325.8 L1297.4 1324.4 L1315.5 1323.1 L1333.7 1319.6 L1351.8 1318.7 L1369.9 1313.8 L1388 1311.6 L1406.2 1307.2 L1424.3 1297.9 L1442.4 1292.2 L1460.6 1282.9 L1478.7 1264.3 L1496.8 1253.3 L1515 1222.3 L1533.1 1202.5 L1551.2 1171.1 L1569.3 1119.8 L1587.5 1093.3 L1605.6 1037.6 L1623.7 1029.2 L1641.9 1016.4 L1660 994.3 L1678.1 1022.6 L1696.2 1032.3 L1714.4 1014.2 L1732.5 1058.8 L1750.6 1069.4 L1768.8 1202.9 L1786.9 1293.1 L1805 1328.9 L1823.2 1337.7 L1841.3 1339.5 L1859.4 1340.8 L2005 1340.8" stroke="#b0622d" stroke-width="4.2"/>
<path d="M1224.9 1336.4 L1243 1335.9 L1261.1 1334.6 L1279.3 1333.3 L1297.4 1331.5 L1315.5 1329.8 L1333.7 1327.5 L1351.8 1326.7 L1369.9 1323.1 L1388 1320.9 L1406.2 1316.9 L1424.3 1309 L1442.4 1303.7 L1460.6 1295.7 L1478.7 1281.6 L1496.8 1272.7 L1515 1252.8 L1533.1 1240 L1551.2 1218.8 L1569.3 1185.7 L1587.5 1172.8 L1605.6 1143.7 L1623.7 1143.2 L1641.9 1125.5 L1660 1084.9 L1678.1 1070.3 L1696.2 1053.5 L1714.4 1044.2 L1732.5 1082.2 L1750.6 1089.7 L1768.8 1114.5 L1786.9 1117.1 L1805 1105.2 L1823.2 1152.1 L1841.3 1207.3 L1859.4 1248.9 L1877.5 1290 L1895.7 1321.8 L1913.8 1336.8 L1931.9 1339 L1950.1 1340.4 L1968.2 1340.8 L2005 1340.8" stroke="#7b10ff" stroke-width="4.2"/>
<path d="M1224.9 1332.4 L1243 1332 L1261.1 1331.1 L1279.3 1329.8 L1297.4 1328.4 L1315.5 1326.7 L1333.7 1324 L1351.8 1322.2 L1369.9 1318.7 L1388 1316.9 L1406.2 1313 L1424.3 1303.7 L1442.4 1298.8 L1460.6 1292.2 L1478.7 1280.2 L1496.8 1274.1 L1515 1255.9 L1533.1 1247.1 L1551.2 1231.6 L1569.3 1210 L1587.5 1202.9 L1605.6 1181.7 L1623.7 1179.9 L1641.9 1170.2 L1660 1142.8 L1678.1 1130.4 L1696.2 1101.2 L1714.4 1060.6 L1732.5 1079.1 L1750.6 1080.9 L1768.8 1117.1 L1786.9 1133.1 L1805 1133.9 L1823.2 1149 L1841.3 1144.6 L1859.4 1144.6 L1877.5 1211.7 L1895.7 1273.6 L1913.8 1310.7 L1931.9 1329.8 L1950.1 1336.8 L1968.2 1339.5 L1986.3 1340.4 L2004.5 1340.8 L2005 1340.8" stroke="#bfbf00" stroke-width="4.2"/>
<path d="M1224.9 1314.3 L1243 1312.5 L1261.1 1311.6 L1279.3 1308.1 L1297.4 1307.2 L1315.5 1304.6 L1333.7 1299.3 L1351.8 1298.8 L1369.9 1292.2 L1388 1291.3 L1406.2 1286 L1424.3 1274.9 L1442.4 1267.9 L1460.6 1253.3 L1478.7 1230.3 L1496.8 1218.8 L1515 1192.3 L1533.1 1185.7 L1551.2 1172.8 L1569.3 1152.5 L1587.5 1156.9 L1605.6 1140.6 L1623.7 1141 L1641.9 1133.9 L1660 1118.9 L1678.1 1140.6 L1696.2 1154.3 L1714.4 1160.5 L1732.5 1180.8 L1750.6 1182.1 L1768.8 1202.5 L1786.9 1213.1 L1805 1223.7 L1823.2 1244.9 L1841.3 1257.3 L1859.4 1263.9 L1877.5 1281.6 L1895.7 1296.9 L1913.8 1314.3 L1931.9 1324 L1950.1 1333.7 L1968.2 1337.7 L1986.3 1339 L2004.5 1339.9 L2005 1340.8" stroke="#000" stroke-width="4.2"/>
</g>
<path d="M1236.3 1340.8h9.8M1236.3 1252.4h9.8M1236.3 1164h9.8M1236.3 1075.6h9.8M1236.3 987.2h9.8M1236.3 898.8h9.8" stroke="#000" stroke-width="2.5" fill="none"/>
<path d="M1415.9 1340.5v-9.0M1595.5 1340.5v-9.0M1775.1 1340.5v-9.0M1954.7 1340.5v-9.0" stroke="#000" stroke-width="1.7" fill="none"/>
<rect x="1236.3" y="854.2" width="763.3" height="486.3" fill="none" stroke="#000" stroke-width="2.5"/>
<text x="1226.8" y="1351.7" font-size="28.05" text-anchor="end" fill="#000" stroke="#000" font-family='"DejaVu Sans","Liberation Sans",sans-serif' >0</text>
<text x="1226.8" y="1263.3" font-size="28.05" text-anchor="end" fill="#000" stroke="#000" font-family='"DejaVu Sans","Liberation Sans",sans-serif' >10</text>
<text x="1226.8" y="1174.9" font-size="28.05" text-anchor="end" fill="#000" stroke="#000" font-family='"DejaVu Sans","Liberation Sans",sans-serif' >20</text>
<text x="1226.8" y="1086.5" font-size="28.05" text-anchor="end" fill="#000" stroke="#000" font-family='"DejaVu Sans","Liberation Sans",sans-serif' >30</text>
<text x="1226.8" y="998.1" font-size="28.05" text-anchor="end" fill="#000" stroke="#000" font-family='"DejaVu Sans","Liberation Sans",sans-serif' >40</text>
<text x="1226.8" y="909.7" font-size="28.05" text-anchor="end" fill="#000" stroke="#000" font-family='"DejaVu Sans","Liberation Sans",sans-serif' >50</text>
<text x="1236.3" y="1372.2" font-size="28.05" text-anchor="middle" fill="#000" stroke="#000" font-family='"DejaVu Sans","Liberation Sans",sans-serif' >27.82</text>
<text x="1415.9" y="1372.2" font-size="28.05" text-anchor="middle" fill="#000" stroke="#000" font-family='"DejaVu Sans","Liberation Sans",sans-serif' >27.84</text>
<text x="1595.5" y="1372.2" font-size="28.05" text-anchor="middle" fill="#000" stroke="#000" font-family='"DejaVu Sans","Liberation Sans",sans-serif' >27.86</text>
<text x="1775.1" y="1372.2" font-size="28.05" text-anchor="middle" fill="#000" stroke="#000" font-family='"DejaVu Sans","Liberation Sans",sans-serif' >27.88</text>
<text x="1954.7" y="1372.2" font-size="28.05" text-anchor="middle" fill="#000" stroke="#000" font-family='"DejaVu Sans","Liberation Sans",sans-serif' >27.90</text>
<text x="1618.2" y="1409.6" font-size="28.05" text-anchor="middle" fill="#000" stroke="#000" font-family='"DejaVu Sans","Liberation Sans",sans-serif' >Fluid density (kg/m³)</text>
<text transform="translate(1174.7 1097.5) rotate(-90)" font-size="28.2" text-anchor="middle" font-family='"DejaVu Sans","Liberation Sans",sans-serif' fill="#000" stroke="#000">Tracer probability density (m³/kg)</text>
<rect x="1249.5" y="867.5" width="172.8" height="210" rx="5.5" fill="#fff" fill-opacity="0.8" stroke="#ccc" stroke-width="2.7"/>
<path d="M1258.3 890.5H1315.4" stroke="#ff0000" stroke-width="4.2"/>
<text x="1334" y="900" font-size="26.7" text-anchor="start" fill="#000" stroke="#000" font-family='"DejaVu Sans","Liberation Sans",sans-serif' >0K1</text>
<path d="M1258.3 930.8H1315.4" stroke="#b0622d" stroke-width="4.2"/>
<text x="1334" y="940.2" font-size="26.7" text-anchor="start" fill="#000" stroke="#000" font-family='"DejaVu Sans","Liberation Sans",sans-serif' >0.2K1</text>
<path d="M1258.3 971.1H1315.4" stroke="#7b10ff" stroke-width="4.2"/>
<text x="1334" y="980.5" font-size="26.7" text-anchor="start" fill="#000" stroke="#000" font-family='"DejaVu Sans","Liberation Sans",sans-serif' >0.5K1</text>
<path d="M1258.3 1011.4H1315.4" stroke="#bfbf00" stroke-width="4.2"/>
<text x="1334" y="1020.8" font-size="26.7" text-anchor="start" fill="#000" stroke="#000" font-family='"DejaVu Sans","Liberation Sans",sans-serif' >1K1</text>
<path d="M1258.3 1051.7H1315.4" stroke="#000" stroke-width="4.2"/>
<text x="1334" y="1061" font-size="26.7" text-anchor="start" fill="#000" stroke="#000" font-family='"DejaVu Sans","Liberation Sans",sans-serif' >2K1</text>
<text x="1820.7" y="986.1" font-size="28.05" fill="#000" stroke="#000" font-family='"DejaVu Sans","Liberation Sans",sans-serif'><tspan font-style="italic">s</tspan><tspan x="1840.6" stroke-width="0">=</tspan><tspan x="1869.6">0.15</tspan></text>
<text x="1178.4" y="847.6" font-size="38.4" text-anchor="start" fill="#000" stroke="#000" font-family='"Liberation Sans","DejaVu Sans",sans-serif' style="stroke-width:0">d</text>
</g>
</svg>
</body></html>
